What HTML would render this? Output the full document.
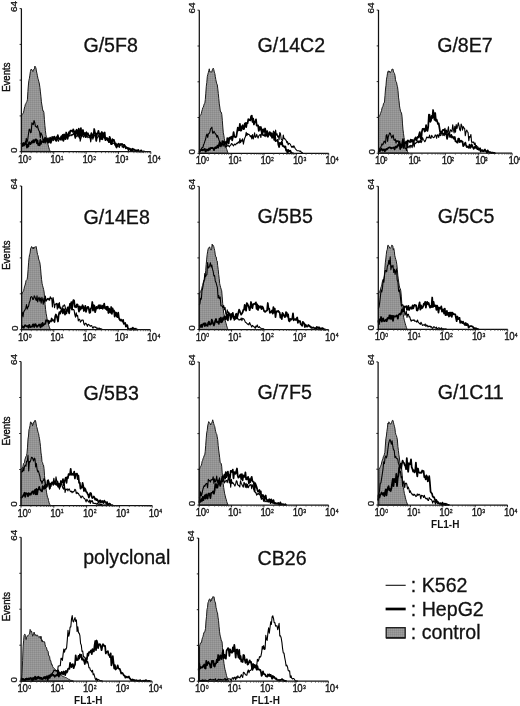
<!DOCTYPE html>
<html><head><meta charset="utf-8"><title>FACS histograms</title>
<style>
html,body{margin:0;padding:0;background:#fff;}
svg{display:block;}
text{font-family:"Liberation Sans",sans-serif;fill:#111;}
.t{font-size:19.6px;stroke:#111;stroke-width:0.3px;}
.tk{font-size:11.5px;stroke:#111;stroke-width:0.35px;}
.sup{font-size:6.1px;stroke:#111;stroke-width:0.3px;}
.yl{font-size:9.6px;stroke:#111;stroke-width:0.3px;}
.ev{font-size:10.4px;stroke:#111;stroke-width:0.4px;}
.fl{font-size:10px;font-weight:bold;}
.ax{stroke:#111;stroke-width:1.25;fill:none;}
.thin{stroke:#000;stroke-width:1.1;fill:none;stroke-linejoin:round;}
.thick{stroke:#000;stroke-width:1.75;fill:none;stroke-linejoin:round;}
.ctrl{fill:url(#ht);stroke:#1a1a1a;stroke-width:1;stroke-linejoin:round;}
</style></head><body>
<svg width="520" height="706" viewBox="0 0 520 706">
<defs><pattern id="ht" width="2" height="2" patternUnits="userSpaceOnUse"><rect width="2" height="2" fill="#949494"/><rect width="1" height="1" fill="#8a8a8a"/><rect x="1" y="1" width="1" height="1" fill="#9e9e9e"/></pattern></defs>
<rect width="520" height="706" fill="#fff"/>
<g style="filter:blur(0.4px)">
<g>
<path class="ctrl" d="M21.4 151.7 L21.4 116.1 L21.9 114.8 L22.4 114.4 L22.9 113.6 L23.4 112.8 L23.9 110.7 L24.4 108.0 L24.9 106.4 L25.4 104.3 L25.9 103.5 L26.4 102.4 L26.9 101.5 L27.4 99.7 L27.9 91.5 L28.4 85.0 L28.9 80.4 L29.4 78.3 L29.9 75.1 L30.4 71.6 L30.9 69.6 L31.4 69.0 L31.9 70.1 L32.4 70.4 L32.9 71.6 L33.4 70.2 L33.9 69.1 L34.4 68.9 L34.9 66.1 L35.4 67.1 L35.9 67.8 L36.4 71.0 L36.9 73.2 L37.4 75.6 L37.9 78.2 L38.4 79.9 L38.9 81.9 L39.4 84.0 L39.9 87.3 L40.4 91.9 L40.9 96.2 L41.4 101.8 L41.9 105.0 L42.4 108.1 L42.9 111.0 L43.4 110.9 L43.9 112.5 L44.4 119.7 L44.9 125.5 L45.4 130.6 L45.9 134.6 L46.4 137.2 L46.9 140.2 L47.4 142.8 L47.9 144.1 L48.4 146.1 L48.9 147.9 L49.4 149.4 L49.9 150.7 L50.4 151.7 L50.4 151.7 Z"/>
<path class="thin" d="M21.4 147.6 L22.1 144.9 L22.8 145.9 L23.5 145.2 L24.2 145.7 L24.9 144.5 L25.6 142.7 L26.3 138.3 L27.0 142.4 L27.7 139.8 L28.4 134.5 L29.1 129.6 L29.8 129.2 L30.5 132.8 L31.2 132.3 L31.9 122.9 L32.6 124.0 L33.3 124.7 L34.0 120.5 L34.7 122.3 L35.4 126.1 L36.1 126.8 L36.8 127.3 L37.5 125.6 L38.2 129.1 L38.9 130.6 L39.6 131.9 L40.3 137.6 L41.0 132.9 L41.7 134.5 L42.4 136.1 L43.1 141.5 L43.8 139.8 L44.5 138.0 L45.2 143.1 L45.9 140.8 L46.6 138.9 L47.3 142.6 L48.0 137.7 L48.7 139.3 L49.4 140.4 L50.1 139.5 L50.8 138.8 L51.5 139.6 L52.2 137.7 L52.9 140.7 L53.6 140.2 L54.3 137.5 L55.0 139.2 L55.7 140.7 L56.4 137.4 L57.1 136.4 L57.8 139.7 L58.5 141.3 L59.2 139.0 L59.9 138.9 L60.6 139.1 L61.3 136.0 L62.0 140.3 L62.7 136.0 L63.4 140.4 L64.1 139.3 L64.8 136.5 L65.5 135.2 L66.2 135.5 L66.9 136.1 L67.6 136.2 L68.3 135.9 L69.0 134.9 L69.7 136.1 L70.4 135.1 L71.1 134.6 L71.8 135.7 L72.5 134.3 L73.2 134.7 L73.9 131.9 L74.6 135.3 L75.3 136.8 L76.0 136.7 L76.7 136.1 L77.4 134.3 L78.1 136.8 L78.8 135.4 L79.5 132.6 L80.2 141.2 L80.9 138.4 L81.6 135.8 L82.3 135.5 L83.0 135.9 L83.7 137.2 L84.4 135.2 L85.1 135.9 L85.8 137.5 L86.5 131.9 L87.2 135.9 L87.9 137.7 L88.6 136.9 L89.3 137.2 L90.0 136.9 L90.7 142.0 L91.4 137.8 L92.1 135.0 L92.8 139.2 L93.5 137.2 L94.2 135.3 L94.9 135.5 L95.6 134.3 L96.3 140.3 L97.0 137.7 L97.7 137.6 L98.4 135.7 L99.1 134.7 L99.8 141.9 L100.5 134.6 L101.2 139.4 L101.9 135.3 L102.6 139.7 L103.3 137.0 L104.0 135.6 L104.7 138.6 L105.4 138.5 L106.1 138.0 L106.8 139.7 L107.5 140.6 L108.2 138.5 L108.9 139.8 L109.6 142.3 L110.3 138.0 L111.0 144.3 L111.7 141.5 L112.4 143.6 L113.1 143.4 L113.8 142.9 L114.5 143.9 L115.2 143.7 L115.9 146.8 L116.6 146.9 L117.3 144.4 L118.0 146.5 L118.7 146.7 L119.4 147.3 L120.1 144.1 L120.8 144.9 L121.5 144.1 L122.2 147.1 L122.9 146.2 L123.6 147.8 L124.3 146.1 L125.0 145.8 L125.7 148.7 L126.4 146.9 L127.1 147.9 L127.8 149.2 L128.5 150.8 L129.2 148.6 L129.9 149.9 L130.6 150.5 L131.3 150.1 L132.0 150.4 L132.7 150.2 L133.4 151.5 L134.1 151.1 L134.8 151.3"/>
<path class="thick" d="M21.4 142.9 L22.1 145.1 L22.8 145.8 L23.5 143.0 L24.2 144.2 L24.9 144.1 L25.6 141.9 L26.3 144.4 L27.0 147.5 L27.7 144.3 L28.4 146.5 L29.1 142.1 L29.8 142.7 L30.5 144.1 L31.2 143.0 L31.9 141.4 L32.6 142.5 L33.3 140.2 L34.0 142.5 L34.7 140.5 L35.4 139.6 L36.1 139.3 L36.8 143.2 L37.5 140.4 L38.2 145.2 L38.9 143.8 L39.6 145.3 L40.3 139.8 L41.0 143.8 L41.7 141.5 L42.4 141.8 L43.1 141.4 L43.8 142.4 L44.5 140.8 L45.2 137.8 L45.9 141.0 L46.6 140.0 L47.3 138.9 L48.0 141.0 L48.7 142.7 L49.4 141.1 L50.1 137.7 L50.8 142.8 L51.5 140.5 L52.2 137.0 L52.9 137.1 L53.6 138.5 L54.3 136.6 L55.0 137.6 L55.7 140.2 L56.4 140.9 L57.1 138.7 L57.8 135.1 L58.5 138.1 L59.2 138.7 L59.9 138.2 L60.6 139.7 L61.3 136.4 L62.0 138.6 L62.7 134.9 L63.4 140.9 L64.1 134.4 L64.8 136.3 L65.5 139.1 L66.2 132.5 L66.9 134.5 L67.6 138.9 L68.3 135.4 L69.0 132.2 L69.7 133.8 L70.4 130.6 L71.1 130.7 L71.8 130.9 L72.5 131.8 L73.2 129.4 L73.9 131.1 L74.6 131.7 L75.3 138.0 L76.0 130.7 L76.7 129.7 L77.4 133.8 L78.1 134.4 L78.8 128.7 L79.5 137.8 L80.2 132.6 L80.9 128.1 L81.6 136.3 L82.3 132.6 L83.0 130.0 L83.7 134.9 L84.4 133.4 L85.1 132.8 L85.8 137.1 L86.5 135.3 L87.2 134.5 L87.9 133.2 L88.6 135.2 L89.3 135.6 L90.0 137.5 L90.7 136.0 L91.4 133.1 L92.1 134.9 L92.8 137.1 L93.5 137.1 L94.2 129.0 L94.9 132.5 L95.6 133.6 L96.3 141.0 L97.0 133.5 L97.7 133.7 L98.4 130.8 L99.1 133.7 L99.8 134.7 L100.5 133.3 L101.2 139.0 L101.9 132.0 L102.6 134.0 L103.3 136.8 L104.0 132.9 L104.7 132.5 L105.4 140.2 L106.1 139.2 L106.8 137.8 L107.5 138.7 L108.2 140.5 L108.9 142.1 L109.6 136.8 L110.3 139.2 L111.0 143.7 L111.7 144.2 L112.4 139.2 L113.1 140.8 L113.8 139.8 L114.5 141.9 L115.2 145.0 L115.9 143.5 L116.6 147.5 L117.3 145.4 L118.0 144.4 L118.7 143.6 L119.4 145.6 L120.1 144.8 L120.8 144.0 L121.5 144.2 L122.2 144.0 L122.9 144.8 L123.6 145.9 L124.3 144.8 L125.0 146.2 L125.7 147.8 L126.4 147.9 L127.1 147.6 L127.8 148.1 L128.5 148.1 L129.2 148.5 L129.9 148.6 L130.6 149.1 L131.3 150.3 L132.0 149.0 L132.7 148.7 L133.4 149.3 L134.1 149.9 L134.8 149.6 L135.5 150.7 L136.2 151.5 L136.9 150.2 L137.6 151.0 L138.3 150.0 L139.0 151.2 L139.7 151.7 L140.4 151.4 L141.1 150.3 L141.8 151.3 L142.5 151.7 L143.2 151.7 L143.9 151.4 L144.6 151.5"/>
<path class="ax" d="M21.4 8.6 V151.7 H150.8"/>
<path class="ax" style="stroke-width:0.9" d="M21.4 151.7 h-1.8 M21.4 115.9 h-1.8 M21.4 80.1 h-1.8 M21.4 44.4 h-1.8 M21.4 8.6 h-1.8"/>
<path d="M21.40 151.7 v2.2 M53.75 151.7 v2.2 M86.10 151.7 v2.2 M118.45 151.7 v2.2 M150.80 151.7 v2.2" stroke="#111" stroke-width="0.9" fill="none"/>
<path d="M31.14 151.7 v1.5 M36.83 151.7 v1.5 M40.88 151.7 v1.5 M44.01 151.7 v1.5 M46.57 151.7 v1.5 M48.74 151.7 v1.5 M50.61 151.7 v1.5 M52.27 151.7 v1.5 M63.49 151.7 v1.5 M69.18 151.7 v1.5 M73.23 151.7 v1.5 M76.36 151.7 v1.5 M78.92 151.7 v1.5 M81.09 151.7 v1.5 M82.96 151.7 v1.5 M84.62 151.7 v1.5 M95.84 151.7 v1.5 M101.53 151.7 v1.5 M105.58 151.7 v1.5 M108.71 151.7 v1.5 M111.27 151.7 v1.5 M113.44 151.7 v1.5 M115.31 151.7 v1.5 M116.97 151.7 v1.5 M128.19 151.7 v1.5 M133.88 151.7 v1.5 M137.93 151.7 v1.5 M141.06 151.7 v1.5 M143.62 151.7 v1.5 M145.79 151.7 v1.5 M147.66 151.7 v1.5 M149.32 151.7 v1.5" stroke="#333" stroke-width="0.7" fill="none"/>
<g transform="translate(17.9 162.7) scale(0.84 1)"><text class="tk" x="0" y="0" dx="0 -0.5">10</text><text class="sup" x="12.6" y="-3.1">0</text></g>
<g transform="translate(50.2 162.7) scale(0.84 1)"><text class="tk" x="0" y="0" dx="0 -0.5">10</text><text class="sup" x="12.6" y="-3.1">1</text></g>
<g transform="translate(82.6 162.7) scale(0.84 1)"><text class="tk" x="0" y="0" dx="0 -0.5">10</text><text class="sup" x="12.6" y="-3.1">2</text></g>
<g transform="translate(115.0 162.7) scale(0.84 1)"><text class="tk" x="0" y="0" dx="0 -0.5">10</text><text class="sup" x="12.6" y="-3.1">3</text></g>
<g transform="translate(147.3 162.7) scale(0.84 1)"><text class="tk" x="0" y="0" dx="0 -0.5">10</text><text class="sup" x="12.6" y="-3.1">4</text></g>
<text class="yl" transform="translate(17.2 12.0) rotate(-90) scale(1.03 1)">64</text>
<text class="yl" transform="translate(17.4 152.9) rotate(-90) scale(1.03 1)">0</text>
<text class="ev" transform="translate(9.9 91.8) rotate(-90) scale(0.92 1)">Events</text>
<text class="t" x="83.4" y="52.3">G/5F8</text>
</g>
<g>
<path class="ctrl" d="M199.3 153.3 L199.3 117.4 L199.8 115.9 L200.3 115.5 L200.8 115.0 L201.3 113.6 L201.8 111.3 L202.3 109.7 L202.8 107.7 L203.3 107.2 L203.8 105.3 L204.3 103.7 L204.8 103.4 L205.3 99.5 L205.8 93.2 L206.3 86.3 L206.8 82.5 L207.3 76.6 L207.8 74.4 L208.3 72.7 L208.8 70.7 L209.3 68.8 L209.8 72.0 L210.3 71.8 L210.8 71.9 L211.3 72.1 L211.8 72.0 L212.3 69.8 L212.8 68.8 L213.3 68.2 L213.8 69.7 L214.3 72.1 L214.8 73.5 L215.3 76.5 L215.8 79.5 L216.3 82.0 L216.8 83.9 L217.3 84.8 L217.8 88.9 L218.3 93.6 L218.8 98.6 L219.3 103.9 L219.8 107.0 L220.3 111.1 L220.8 112.1 L221.3 112.2 L221.8 114.5 L222.3 120.3 L222.8 127.0 L223.3 132.8 L223.8 135.2 L224.3 138.7 L224.8 141.4 L225.3 144.2 L225.8 146.0 L226.3 148.2 L226.8 149.5 L227.3 151.1 L227.8 152.5 L228.3 153.3 L228.3 153.3 Z"/>
<path class="thin" d="M199.3 149.4 L200.0 150.9 L200.7 150.3 L201.4 148.8 L202.1 147.5 L202.8 147.8 L203.5 145.0 L204.2 143.4 L204.9 141.2 L205.6 139.1 L206.3 135.6 L207.0 134.1 L207.7 137.4 L208.4 133.8 L209.1 133.5 L209.8 132.3 L210.5 128.9 L211.2 128.2 L211.9 127.2 L212.6 133.1 L213.3 133.1 L214.0 131.2 L214.7 132.6 L215.4 133.9 L216.1 134.5 L216.8 137.2 L217.5 135.5 L218.2 137.5 L218.9 139.7 L219.6 141.9 L220.3 142.1 L221.0 146.9 L221.7 144.6 L222.4 143.4 L223.1 146.2 L223.8 144.1 L224.5 144.7 L225.2 147.2 L225.9 146.1 L226.6 146.6 L227.3 145.7 L228.0 145.4 L228.7 146.0 L229.4 146.8 L230.1 145.5 L230.8 145.1 L231.5 143.6 L232.2 144.0 L232.9 145.2 L233.6 145.9 L234.3 144.1 L235.0 144.4 L235.7 144.9 L236.4 143.2 L237.1 143.6 L237.8 142.6 L238.5 141.8 L239.2 143.2 L239.9 138.6 L240.6 142.7 L241.3 140.1 L242.0 141.2 L242.7 138.7 L243.4 144.2 L244.1 140.6 L244.8 137.9 L245.5 136.5 L246.2 132.3 L246.9 135.7 L247.6 133.5 L248.3 134.5 L249.0 134.3 L249.7 135.3 L250.4 136.8 L251.1 135.6 L251.8 138.9 L252.5 134.5 L253.2 139.0 L253.9 136.6 L254.6 132.9 L255.3 137.4 L256.0 136.8 L256.7 134.4 L257.4 136.5 L258.1 138.1 L258.8 135.8 L259.5 135.0 L260.2 134.6 L260.9 137.5 L261.6 132.1 L262.3 132.2 L263.0 135.5 L263.7 134.8 L264.4 136.2 L265.1 132.3 L265.8 136.6 L266.5 133.7 L267.2 136.0 L267.9 136.4 L268.6 133.3 L269.3 131.9 L270.0 134.7 L270.7 136.1 L271.4 132.8 L272.1 134.6 L272.8 133.7 L273.5 131.1 L274.2 132.1 L274.9 135.8 L275.6 130.1 L276.3 135.1 L277.0 133.7 L277.7 136.9 L278.4 135.9 L279.1 139.6 L279.8 132.6 L280.5 133.7 L281.2 139.2 L281.9 140.0 L282.6 140.4 L283.3 135.1 L284.0 138.7 L284.7 138.6 L285.4 139.8 L286.1 140.2 L286.8 142.7 L287.5 141.6 L288.2 144.8 L288.9 143.3 L289.6 143.6 L290.3 144.1 L291.0 145.8 L291.7 147.2 L292.4 146.3 L293.1 147.6 L293.8 145.7 L294.5 147.1 L295.2 148.6 L295.9 149.4 L296.6 150.1 L297.3 150.8 L298.0 150.7 L298.7 150.7 L299.4 151.0 L300.1 151.4 L300.8 151.1 L301.5 152.9 L302.2 152.9 L302.9 152.5"/>
<path class="thick" d="M199.3 152.4 L200.0 151.0 L200.7 150.2 L201.4 150.1 L202.1 149.8 L202.8 150.3 L203.5 149.6 L204.2 149.8 L204.9 148.9 L205.6 151.7 L206.3 150.5 L207.0 149.4 L207.7 150.5 L208.4 150.4 L209.1 148.3 L209.8 149.7 L210.5 148.1 L211.2 147.8 L211.9 148.2 L212.6 147.9 L213.3 148.5 L214.0 150.1 L214.7 148.1 L215.4 147.2 L216.1 148.2 L216.8 147.2 L217.5 145.6 L218.2 147.6 L218.9 144.9 L219.6 142.5 L220.3 146.0 L221.0 144.4 L221.7 144.5 L222.4 141.2 L223.1 142.9 L223.8 141.5 L224.5 144.0 L225.2 142.3 L225.9 141.9 L226.6 145.0 L227.3 138.1 L228.0 138.6 L228.7 143.5 L229.4 137.7 L230.1 139.0 L230.8 137.1 L231.5 136.6 L232.2 140.3 L232.9 136.8 L233.6 132.1 L234.3 136.5 L235.0 137.0 L235.7 137.3 L236.4 136.4 L237.1 131.8 L237.8 127.6 L238.5 130.3 L239.2 130.1 L239.9 123.9 L240.6 130.7 L241.3 130.4 L242.0 126.2 L242.7 125.3 L243.4 129.1 L244.1 128.9 L244.8 123.7 L245.5 123.0 L246.2 127.1 L246.9 122.8 L247.6 123.2 L248.3 119.1 L249.0 120.3 L249.7 119.6 L250.4 120.4 L251.1 116.1 L251.8 115.6 L252.5 122.0 L253.2 118.7 L253.9 124.5 L254.6 122.5 L255.3 121.0 L256.0 119.3 L256.7 125.7 L257.4 125.4 L258.1 125.3 L258.8 130.9 L259.5 127.0 L260.2 129.6 L260.9 127.0 L261.6 131.8 L262.3 134.6 L263.0 129.4 L263.7 129.3 L264.4 131.9 L265.1 128.5 L265.8 132.1 L266.5 133.4 L267.2 131.1 L267.9 136.8 L268.6 135.0 L269.3 133.8 L270.0 132.2 L270.7 135.3 L271.4 134.8 L272.1 137.8 L272.8 136.2 L273.5 133.9 L274.2 139.8 L274.9 133.9 L275.6 141.1 L276.3 140.4 L277.0 140.8 L277.7 139.8 L278.4 144.8 L279.1 147.0 L279.8 142.8 L280.5 143.2 L281.2 144.1 L281.9 141.6 L282.6 145.9 L283.3 146.4 L284.0 146.1 L284.7 147.4 L285.4 146.4 L286.1 150.5 L286.8 150.0 L287.5 153.3 L288.2 149.9 L288.9 151.5 L289.6 151.0 L290.3 150.6 L291.0 152.3 L291.7 152.8 L292.4 153.1 L293.1 153.3 L293.8 153.3"/>
<path class="ax" d="M199.3 10.2 V153.3 H328.7"/>
<path class="ax" style="stroke-width:0.9" d="M199.3 153.3 h-1.8 M199.3 117.5 h-1.8 M199.3 81.8 h-1.8 M199.3 46.0 h-1.8 M199.3 10.2 h-1.8"/>
<path d="M199.30 153.3 v2.2 M231.65 153.3 v2.2 M264.00 153.3 v2.2 M296.35 153.3 v2.2 M328.70 153.3 v2.2" stroke="#111" stroke-width="0.9" fill="none"/>
<path d="M209.04 153.3 v1.5 M214.73 153.3 v1.5 M218.78 153.3 v1.5 M221.91 153.3 v1.5 M224.47 153.3 v1.5 M226.64 153.3 v1.5 M228.51 153.3 v1.5 M230.17 153.3 v1.5 M241.39 153.3 v1.5 M247.08 153.3 v1.5 M251.13 153.3 v1.5 M254.26 153.3 v1.5 M256.82 153.3 v1.5 M258.99 153.3 v1.5 M260.86 153.3 v1.5 M262.52 153.3 v1.5 M273.74 153.3 v1.5 M279.43 153.3 v1.5 M283.48 153.3 v1.5 M286.61 153.3 v1.5 M289.17 153.3 v1.5 M291.34 153.3 v1.5 M293.21 153.3 v1.5 M294.87 153.3 v1.5 M306.09 153.3 v1.5 M311.78 153.3 v1.5 M315.83 153.3 v1.5 M318.96 153.3 v1.5 M321.52 153.3 v1.5 M323.69 153.3 v1.5 M325.56 153.3 v1.5 M327.22 153.3 v1.5" stroke="#333" stroke-width="0.7" fill="none"/>
<g transform="translate(195.8 164.3) scale(0.84 1)"><text class="tk" x="0" y="0" dx="0 -0.5">10</text><text class="sup" x="12.6" y="-3.1">0</text></g>
<g transform="translate(228.2 164.3) scale(0.84 1)"><text class="tk" x="0" y="0" dx="0 -0.5">10</text><text class="sup" x="12.6" y="-3.1">1</text></g>
<g transform="translate(260.5 164.3) scale(0.84 1)"><text class="tk" x="0" y="0" dx="0 -0.5">10</text><text class="sup" x="12.6" y="-3.1">2</text></g>
<g transform="translate(292.9 164.3) scale(0.84 1)"><text class="tk" x="0" y="0" dx="0 -0.5">10</text><text class="sup" x="12.6" y="-3.1">3</text></g>
<g transform="translate(325.2 164.3) scale(0.84 1)"><text class="tk" x="0" y="0" dx="0 -0.5">10</text><text class="sup" x="12.6" y="-3.1">4</text></g>
<text class="yl" transform="translate(195.1 13.6) rotate(-90) scale(1.03 1)">64</text>
<text class="yl" transform="translate(195.3 154.5) rotate(-90) scale(1.03 1)">0</text>
<text class="t" x="257.6" y="52.1">G/14C2</text>
</g>
<g>
<path class="ctrl" d="M378.5 153.2 L378.5 117.1 L379.0 116.6 L379.5 115.8 L380.0 115.1 L380.5 113.4 L381.0 112.1 L381.5 110.6 L382.0 108.2 L382.5 106.9 L383.0 106.2 L383.5 103.5 L384.0 103.2 L384.5 102.0 L385.0 95.4 L385.5 89.0 L386.0 85.3 L386.5 79.1 L387.0 76.7 L387.5 73.2 L388.0 71.4 L388.5 70.8 L389.0 72.3 L389.5 71.1 L390.0 72.5 L390.5 72.7 L391.0 71.5 L391.5 70.6 L392.0 69.1 L392.5 69.2 L393.0 69.1 L393.5 72.1 L394.0 72.4 L394.5 73.5 L395.0 75.6 L395.5 79.7 L396.0 81.8 L396.5 82.2 L397.0 85.1 L397.5 86.7 L398.0 90.6 L398.5 97.1 L399.0 100.8 L399.5 105.9 L400.0 108.7 L400.5 111.2 L401.0 112.1 L401.5 113.0 L402.0 116.2 L402.5 123.9 L403.0 129.9 L403.5 133.6 L404.0 137.4 L404.5 139.7 L405.0 142.3 L405.5 144.6 L406.0 146.2 L406.5 148.5 L407.0 149.8 L407.5 151.5 L408.0 152.5 L408.5 153.2 L408.5 153.2 Z"/>
<path class="thin" d="M378.5 150.2 L379.2 148.2 L379.9 148.1 L380.6 147.9 L381.3 145.9 L382.0 143.7 L382.7 145.0 L383.4 143.5 L384.1 141.1 L384.8 141.6 L385.5 143.2 L386.2 135.4 L386.9 134.6 L387.6 141.5 L388.3 136.7 L389.0 134.7 L389.7 132.9 L390.4 133.5 L391.1 135.9 L391.8 138.0 L392.5 136.3 L393.2 135.0 L393.9 139.8 L394.6 140.3 L395.3 139.0 L396.0 143.1 L396.7 140.6 L397.4 141.5 L398.1 140.6 L398.8 143.2 L399.5 144.1 L400.2 143.9 L400.9 144.0 L401.6 145.6 L402.3 145.2 L403.0 144.9 L403.7 145.0 L404.4 145.0 L405.1 148.5 L405.8 148.2 L406.5 150.5 L407.2 145.0 L407.9 147.9 L408.6 146.7 L409.3 145.7 L410.0 147.9 L410.7 145.2 L411.4 145.5 L412.1 147.7 L412.8 144.5 L413.5 142.8 L414.2 147.0 L414.9 142.8 L415.6 143.4 L416.3 142.6 L417.0 142.4 L417.7 140.7 L418.4 142.8 L419.1 140.7 L419.8 142.5 L420.5 140.3 L421.2 142.6 L421.9 141.1 L422.6 137.6 L423.3 139.5 L424.0 140.3 L424.7 141.8 L425.4 140.9 L426.1 138.8 L426.8 137.0 L427.5 137.7 L428.2 137.2 L428.9 138.0 L429.6 135.0 L430.3 138.2 L431.0 138.3 L431.7 135.3 L432.4 136.8 L433.1 137.3 L433.8 137.7 L434.5 136.9 L435.2 134.9 L435.9 135.3 L436.6 138.3 L437.3 134.8 L438.0 135.1 L438.7 137.4 L439.4 133.5 L440.1 135.6 L440.8 135.5 L441.5 132.9 L442.2 131.6 L442.9 135.7 L443.6 133.1 L444.3 135.6 L445.0 128.3 L445.7 134.2 L446.4 130.1 L447.1 133.9 L447.8 130.3 L448.5 126.7 L449.2 137.3 L449.9 132.2 L450.6 129.7 L451.3 130.7 L452.0 131.8 L452.7 124.7 L453.4 129.2 L454.1 133.0 L454.8 126.4 L455.5 132.3 L456.2 124.6 L456.9 128.5 L457.6 126.2 L458.3 122.9 L459.0 125.6 L459.7 129.6 L460.4 130.8 L461.1 124.0 L461.8 125.7 L462.5 130.1 L463.2 126.6 L463.9 128.0 L464.6 128.2 L465.3 135.7 L466.0 131.8 L466.7 130.1 L467.4 131.6 L468.1 132.6 L468.8 140.7 L469.5 136.5 L470.2 137.1 L470.9 134.5 L471.6 142.1 L472.3 142.1 L473.0 142.5 L473.7 142.0 L474.4 144.7 L475.1 143.0 L475.8 146.4 L476.5 145.5 L477.2 147.2 L477.9 146.9 L478.6 148.5 L479.3 150.0 L480.0 147.8 L480.7 149.2 L481.4 150.5 L482.1 150.3 L482.8 149.9 L483.5 151.6 L484.2 151.1 L484.9 150.7 L485.6 150.9 L486.3 151.6 L487.0 152.9 L487.7 150.9 L488.4 151.6 L489.1 152.0 L489.8 152.3 L490.5 152.1 L491.2 152.6 L491.9 152.9 L492.6 152.9 L493.3 153.0 L494.0 153.1 L494.7 153.2 L495.4 153.0"/>
<path class="thick" d="M378.5 151.7 L379.2 149.8 L379.9 151.2 L380.6 149.8 L381.3 148.6 L382.0 149.6 L382.7 150.5 L383.4 149.5 L384.1 149.3 L384.8 151.3 L385.5 149.9 L386.2 148.9 L386.9 149.5 L387.6 148.7 L388.3 147.8 L389.0 147.6 L389.7 147.3 L390.4 147.5 L391.1 148.5 L391.8 147.9 L392.5 148.0 L393.2 147.8 L393.9 147.4 L394.6 149.4 L395.3 147.1 L396.0 146.4 L396.7 147.6 L397.4 145.9 L398.1 144.8 L398.8 145.6 L399.5 141.7 L400.2 149.1 L400.9 144.9 L401.6 147.4 L402.3 142.4 L403.0 139.2 L403.7 148.0 L404.4 143.1 L405.1 142.1 L405.8 143.3 L406.5 141.5 L407.2 146.4 L407.9 140.3 L408.6 141.0 L409.3 141.4 L410.0 142.3 L410.7 139.6 L411.4 141.6 L412.1 139.9 L412.8 141.1 L413.5 144.5 L414.2 139.6 L414.9 138.8 L415.6 137.4 L416.3 140.6 L417.0 138.5 L417.7 136.8 L418.4 137.5 L419.1 134.6 L419.8 132.2 L420.5 138.0 L421.2 139.5 L421.9 131.7 L422.6 128.9 L423.3 129.4 L424.0 128.6 L424.7 131.5 L425.4 130.8 L426.1 125.2 L426.8 129.3 L427.5 130.9 L428.2 127.1 L428.9 114.7 L429.6 114.9 L430.3 121.9 L431.0 120.6 L431.7 115.9 L432.4 118.0 L433.1 110.0 L433.8 115.2 L434.5 119.8 L435.2 113.0 L435.9 120.8 L436.6 119.6 L437.3 121.8 L438.0 124.1 L438.7 123.4 L439.4 127.5 L440.1 131.9 L440.8 133.8 L441.5 131.9 L442.2 131.2 L442.9 129.9 L443.6 130.3 L444.3 129.5 L445.0 131.3 L445.7 134.3 L446.4 134.6 L447.1 138.8 L447.8 134.4 L448.5 133.4 L449.2 134.0 L449.9 136.1 L450.6 136.8 L451.3 134.9 L452.0 137.6 L452.7 136.6 L453.4 137.5 L454.1 138.9 L454.8 137.0 L455.5 141.3 L456.2 141.2 L456.9 142.4 L457.6 142.7 L458.3 138.5 L459.0 138.5 L459.7 142.1 L460.4 141.5 L461.1 140.7 L461.8 141.8 L462.5 141.4 L463.2 146.1 L463.9 145.4 L464.6 143.9 L465.3 142.6 L466.0 145.1 L466.7 147.0 L467.4 146.5 L468.1 147.3 L468.8 147.8 L469.5 144.6 L470.2 147.9 L470.9 147.1 L471.6 144.4 L472.3 146.0 L473.0 147.4 L473.7 148.8 L474.4 147.7 L475.1 146.5 L475.8 147.9 L476.5 147.4 L477.2 149.0 L477.9 148.7 L478.6 149.7 L479.3 149.3 L480.0 148.6 L480.7 151.6 L481.4 150.4 L482.1 150.3 L482.8 151.2 L483.5 151.1 L484.2 150.3 L484.9 149.5 L485.6 150.8 L486.3 151.2 L487.0 152.7 L487.7 150.3 L488.4 151.8 L489.1 152.0 L489.8 152.8 L490.5 152.3 L491.2 153.0 L491.9 152.5 L492.6 152.5 L493.3 152.8 L494.0 152.9 L494.7 153.2 L495.4 152.7"/>
<path class="ax" d="M378.5 10.1 V153.2 H512.1"/>
<path class="ax" style="stroke-width:0.9" d="M378.5 153.2 h-1.8 M378.5 117.4 h-1.8 M378.5 81.6 h-1.8 M378.5 45.9 h-1.8 M378.5 10.1 h-1.8"/>
<path d="M378.50 153.2 v2.2 M411.90 153.2 v2.2 M445.30 153.2 v2.2 M478.70 153.2 v2.2 M512.10 153.2 v2.2" stroke="#111" stroke-width="0.9" fill="none"/>
<path d="M388.55 153.2 v1.5 M394.44 153.2 v1.5 M398.61 153.2 v1.5 M401.85 153.2 v1.5 M404.49 153.2 v1.5 M406.73 153.2 v1.5 M408.66 153.2 v1.5 M410.37 153.2 v1.5 M421.95 153.2 v1.5 M427.84 153.2 v1.5 M432.01 153.2 v1.5 M435.25 153.2 v1.5 M437.89 153.2 v1.5 M440.13 153.2 v1.5 M442.06 153.2 v1.5 M443.77 153.2 v1.5 M455.35 153.2 v1.5 M461.24 153.2 v1.5 M465.41 153.2 v1.5 M468.65 153.2 v1.5 M471.29 153.2 v1.5 M473.53 153.2 v1.5 M475.46 153.2 v1.5 M477.17 153.2 v1.5 M488.75 153.2 v1.5 M494.64 153.2 v1.5 M498.81 153.2 v1.5 M502.05 153.2 v1.5 M504.69 153.2 v1.5 M506.93 153.2 v1.5 M508.86 153.2 v1.5 M510.57 153.2 v1.5" stroke="#333" stroke-width="0.7" fill="none"/>
<g transform="translate(375.0 164.2) scale(0.84 1)"><text class="tk" x="0" y="0" dx="0 -0.5">10</text><text class="sup" x="11.4" y="-3.1">0</text></g>
<g transform="translate(408.4 164.2) scale(0.84 1)"><text class="tk" x="0" y="0" dx="0 -0.5">10</text><text class="sup" x="11.4" y="-3.1">1</text></g>
<g transform="translate(441.8 164.2) scale(0.84 1)"><text class="tk" x="0" y="0" dx="0 -0.5">10</text><text class="sup" x="11.4" y="-3.1">2</text></g>
<g transform="translate(475.2 164.2) scale(0.84 1)"><text class="tk" x="0" y="0" dx="0 -0.5">10</text><text class="sup" x="11.4" y="-3.1">3</text></g>
<g transform="translate(508.6 164.2) scale(0.84 1)"><text class="tk" x="0" y="0" dx="0 -0.5">10</text><text class="sup" x="11.4" y="-3.1">4</text></g>
<text class="yl" transform="translate(374.3 13.5) rotate(-90) scale(1.03 1)">64</text>
<text class="yl" transform="translate(374.5 154.4) rotate(-90) scale(1.03 1)">0</text>
<text class="t" x="437.2" y="51.5">G/8E7</text>
</g>
<g>
<path class="ctrl" d="M21.6 329.7 L21.6 294.1 L22.1 293.9 L22.6 292.2 L23.1 291.7 L23.6 290.7 L24.1 288.6 L24.6 286.2 L25.1 285.1 L25.6 282.7 L26.1 280.5 L26.6 279.9 L27.1 279.4 L27.6 276.1 L28.1 269.5 L28.6 262.8 L29.1 257.6 L29.6 254.5 L30.1 253.1 L30.6 248.4 L31.1 247.6 L31.6 246.5 L32.1 248.3 L32.6 248.4 L33.1 247.0 L33.6 248.9 L34.1 247.9 L34.6 247.0 L35.1 247.1 L35.6 246.9 L36.1 246.4 L36.6 249.0 L37.1 252.2 L37.6 254.6 L38.1 255.7 L38.6 259.0 L39.1 260.3 L39.6 261.6 L40.1 264.2 L40.6 268.9 L41.1 274.9 L41.6 279.7 L42.1 283.6 L42.6 285.7 L43.1 287.4 L43.6 289.4 L44.1 292.0 L44.6 297.9 L45.1 304.5 L45.6 309.6 L46.1 313.4 L46.6 316.1 L47.1 319.1 L47.6 320.5 L48.1 322.6 L48.6 324.9 L49.1 326.3 L49.6 327.8 L50.1 329.1 L50.6 329.6 L50.6 329.7 Z"/>
<path class="thin" d="M21.6 316.2 L22.3 312.3 L23.0 316.9 L23.7 312.0 L24.4 310.7 L25.1 309.6 L25.8 308.2 L26.5 304.6 L27.2 309.2 L27.9 307.1 L28.6 306.1 L29.3 302.5 L30.0 301.1 L30.7 297.1 L31.4 296.6 L32.1 297.2 L32.8 299.5 L33.5 299.3 L34.2 295.8 L34.9 296.8 L35.6 299.0 L36.3 300.6 L37.0 295.9 L37.7 301.9 L38.4 298.7 L39.1 297.3 L39.8 301.1 L40.5 298.1 L41.2 303.2 L41.9 297.4 L42.6 299.6 L43.3 304.3 L44.0 298.1 L44.7 302.2 L45.4 296.1 L46.1 301.3 L46.8 299.8 L47.5 298.4 L48.2 299.9 L48.9 298.2 L49.6 300.3 L50.3 296.7 L51.0 298.5 L51.7 298.2 L52.4 307.0 L53.1 297.5 L53.8 301.9 L54.5 307.8 L55.2 304.1 L55.9 304.1 L56.6 303.3 L57.3 309.1 L58.0 303.4 L58.7 308.0 L59.4 302.6 L60.1 308.8 L60.8 307.1 L61.5 309.5 L62.2 311.1 L62.9 305.9 L63.6 306.2 L64.3 304.7 L65.0 306.1 L65.7 309.3 L66.4 311.7 L67.1 309.3 L67.8 309.3 L68.5 309.5 L69.2 306.1 L69.9 306.7 L70.6 308.2 L71.3 307.7 L72.0 309.3 L72.7 309.6 L73.4 309.5 L74.1 310.2 L74.8 314.6 L75.5 317.2 L76.2 312.7 L76.9 316.2 L77.6 315.4 L78.3 320.9 L79.0 319.3 L79.7 319.3 L80.4 322.1 L81.1 321.2 L81.8 320.0 L82.5 320.1 L83.2 320.1 L83.9 323.9 L84.6 325.1 L85.3 323.3 L86.0 323.3 L86.7 324.5 L87.4 326.4 L88.1 324.4 L88.8 324.6 L89.5 325.1 L90.2 326.3 L90.9 325.8 L91.6 325.6 L92.3 327.0 L93.0 328.3 L93.7 326.7 L94.4 326.8 L95.1 327.4 L95.8 327.0 L96.5 328.3 L97.2 328.1 L97.9 328.5 L98.6 328.2 L99.3 328.0 L100.0 329.1 L100.7 328.6 L101.4 329.0 L102.1 329.4 L102.8 329.5"/>
<path class="thick" d="M21.6 325.4 L22.3 327.1 L23.0 326.9 L23.7 327.8 L24.4 326.2 L25.1 325.2 L25.8 325.9 L26.5 326.0 L27.2 326.5 L27.9 326.0 L28.6 327.7 L29.3 324.9 L30.0 326.4 L30.7 327.1 L31.4 326.6 L32.1 326.6 L32.8 324.6 L33.5 324.3 L34.2 327.0 L34.9 324.3 L35.6 324.2 L36.3 325.9 L37.0 326.9 L37.7 325.9 L38.4 325.7 L39.1 324.4 L39.8 325.2 L40.5 327.3 L41.2 324.2 L41.9 326.3 L42.6 322.8 L43.3 325.4 L44.0 324.3 L44.7 324.2 L45.4 323.4 L46.1 320.2 L46.8 320.5 L47.5 320.6 L48.2 320.7 L48.9 323.5 L49.6 321.4 L50.3 321.1 L51.0 321.5 L51.7 318.5 L52.4 320.5 L53.1 320.1 L53.8 320.4 L54.5 322.0 L55.2 316.5 L55.9 314.5 L56.6 316.4 L57.3 318.3 L58.0 321.5 L58.7 314.9 L59.4 312.1 L60.1 313.6 L60.8 311.6 L61.5 309.8 L62.2 310.1 L62.9 313.3 L63.6 309.2 L64.3 309.4 L65.0 314.6 L65.7 311.3 L66.4 313.4 L67.1 309.6 L67.8 307.3 L68.5 311.1 L69.2 313.3 L69.9 303.8 L70.6 305.8 L71.3 302.2 L72.0 309.6 L72.7 302.8 L73.4 300.1 L74.1 300.5 L74.8 306.9 L75.5 305.9 L76.2 307.3 L76.9 304.4 L77.6 304.6 L78.3 307.4 L79.0 311.6 L79.7 306.3 L80.4 309.7 L81.1 307.1 L81.8 308.3 L82.5 305.1 L83.2 306.6 L83.9 311.0 L84.6 309.2 L85.3 305.9 L86.0 311.8 L86.7 309.3 L87.4 307.2 L88.1 306.8 L88.8 308.4 L89.5 312.9 L90.2 312.5 L90.9 308.4 L91.6 307.8 L92.3 302.0 L93.0 310.7 L93.7 305.2 L94.4 305.9 L95.1 312.2 L95.8 309.7 L96.5 306.8 L97.2 308.4 L97.9 307.3 L98.6 305.3 L99.3 308.6 L100.0 305.1 L100.7 308.2 L101.4 308.2 L102.1 305.5 L102.8 308.8 L103.5 306.8 L104.2 303.6 L104.9 308.1 L105.6 308.9 L106.3 306.9 L107.0 310.0 L107.7 306.6 L108.4 313.0 L109.1 308.5 L109.8 311.6 L110.5 312.7 L111.2 307.0 L111.9 313.9 L112.6 308.4 L113.3 311.6 L114.0 310.4 L114.7 316.6 L115.4 312.4 L116.1 312.5 L116.8 316.5 L117.5 317.1 L118.2 312.6 L118.9 317.8 L119.6 319.6 L120.3 320.6 L121.0 319.4 L121.7 320.4 L122.4 321.5 L123.1 319.9 L123.8 323.8 L124.5 323.4 L125.2 323.0 L125.9 326.7 L126.6 325.2 L127.3 325.2 L128.0 328.7 L128.7 328.9 L129.4 329.2 L130.1 329.7 L130.8 328.6 L131.5 329.7 L132.2 328.4 L132.9 327.7 L133.6 329.5 L134.3 328.7 L135.0 329.7 L135.7 328.6 L136.4 329.5 L137.1 329.6 L137.8 329.7"/>
<path class="ax" d="M21.6 186.0 V329.7 H150.4"/>
<path class="ax" style="stroke-width:0.9" d="M21.6 329.7 h-1.8 M21.6 293.8 h-1.8 M21.6 257.9 h-1.8 M21.6 221.9 h-1.8 M21.6 186.0 h-1.8"/>
<path d="M21.60 329.7 v2.2 M53.80 329.7 v2.2 M86.00 329.7 v2.2 M118.20 329.7 v2.2 M150.40 329.7 v2.2" stroke="#111" stroke-width="0.9" fill="none"/>
<path d="M31.29 329.7 v1.5 M36.96 329.7 v1.5 M40.99 329.7 v1.5 M44.11 329.7 v1.5 M46.66 329.7 v1.5 M48.81 329.7 v1.5 M50.68 329.7 v1.5 M52.33 329.7 v1.5 M63.49 329.7 v1.5 M69.16 329.7 v1.5 M73.19 329.7 v1.5 M76.31 329.7 v1.5 M78.86 329.7 v1.5 M81.01 329.7 v1.5 M82.88 329.7 v1.5 M84.53 329.7 v1.5 M95.69 329.7 v1.5 M101.36 329.7 v1.5 M105.39 329.7 v1.5 M108.51 329.7 v1.5 M111.06 329.7 v1.5 M113.21 329.7 v1.5 M115.08 329.7 v1.5 M116.73 329.7 v1.5 M127.89 329.7 v1.5 M133.56 329.7 v1.5 M137.59 329.7 v1.5 M140.71 329.7 v1.5 M143.26 329.7 v1.5 M145.41 329.7 v1.5 M147.28 329.7 v1.5 M148.93 329.7 v1.5" stroke="#333" stroke-width="0.7" fill="none"/>
<g transform="translate(18.1 340.7) scale(0.84 1)"><text class="tk" x="0" y="0" dx="0 -0.5">10</text><text class="sup" x="12.6" y="-3.1">0</text></g>
<g transform="translate(50.3 340.7) scale(0.84 1)"><text class="tk" x="0" y="0" dx="0 -0.5">10</text><text class="sup" x="12.6" y="-3.1">1</text></g>
<g transform="translate(82.5 340.7) scale(0.84 1)"><text class="tk" x="0" y="0" dx="0 -0.5">10</text><text class="sup" x="12.6" y="-3.1">2</text></g>
<g transform="translate(114.7 340.7) scale(0.84 1)"><text class="tk" x="0" y="0" dx="0 -0.5">10</text><text class="sup" x="12.6" y="-3.1">3</text></g>
<g transform="translate(146.9 340.7) scale(0.84 1)"><text class="tk" x="0" y="0" dx="0 -0.5">10</text><text class="sup" x="12.6" y="-3.1">4</text></g>
<text class="yl" transform="translate(17.4 189.4) rotate(-90) scale(1.03 1)">64</text>
<text class="yl" transform="translate(17.6 330.9) rotate(-90) scale(1.03 1)">0</text>
<text class="ev" transform="translate(10.1 269.8) rotate(-90) scale(0.92 1)">Events</text>
<text class="t" x="83.4" y="224.0">G/14E8</text>
</g>
<g>
<path class="ctrl" d="M199.2 329.5 L199.2 293.4 L199.7 293.1 L200.2 292.0 L200.7 291.5 L201.2 290.0 L201.7 289.1 L202.2 286.4 L202.7 285.6 L203.2 283.0 L203.7 280.2 L204.2 280.4 L204.7 280.2 L205.2 276.2 L205.7 270.5 L206.2 264.4 L206.7 259.1 L207.2 254.3 L207.7 251.2 L208.2 248.8 L208.7 247.8 L209.2 247.9 L209.7 246.8 L210.2 248.5 L210.7 249.7 L211.2 250.0 L211.7 248.3 L212.2 244.1 L212.7 246.2 L213.2 245.4 L213.7 246.4 L214.2 248.4 L214.7 250.6 L215.2 254.2 L215.7 256.7 L216.2 256.9 L216.7 260.5 L217.2 260.9 L217.7 265.6 L218.2 269.5 L218.7 274.6 L219.2 278.5 L219.7 283.6 L220.2 285.8 L220.7 287.7 L221.2 289.2 L221.7 290.8 L222.2 296.9 L222.7 303.5 L223.2 308.4 L223.7 313.1 L224.2 315.2 L224.7 318.2 L225.2 320.6 L225.7 322.2 L226.2 323.9 L226.7 325.9 L227.2 327.3 L227.7 328.7 L228.2 329.5 L228.2 329.5 Z"/>
<path class="thin" d="M199.2 305.2 L199.9 303.8 L200.6 298.3 L201.3 299.1 L202.0 290.5 L202.7 288.2 L203.4 283.1 L204.1 281.4 L204.8 273.5 L205.5 276.7 L206.2 275.0 L206.9 274.7 L207.6 262.5 L208.3 268.0 L209.0 267.4 L209.7 265.4 L210.4 262.7 L211.1 267.0 L211.8 265.1 L212.5 269.1 L213.2 271.5 L213.9 276.0 L214.6 275.6 L215.3 280.9 L216.0 282.4 L216.7 285.1 L217.4 287.6 L218.1 298.0 L218.8 295.5 L219.5 298.8 L220.2 297.1 L220.9 305.8 L221.6 305.8 L222.3 306.4 L223.0 307.6 L223.7 305.5 L224.4 309.7 L225.1 307.5 L225.8 313.7 L226.5 315.3 L227.2 309.9 L227.9 312.3 L228.6 312.9 L229.3 314.1 L230.0 313.8 L230.7 317.3 L231.4 313.6 L232.1 316.7 L232.8 314.3 L233.5 316.3 L234.2 320.3 L234.9 319.4 L235.6 315.6 L236.3 318.1 L237.0 318.9 L237.7 318.2 L238.4 319.6 L239.1 320.1 L239.8 319.5 L240.5 319.7 L241.2 318.0 L241.9 320.6 L242.6 318.3 L243.3 318.8 L244.0 319.3 L244.7 320.6 L245.4 322.2 L246.1 322.6 L246.8 323.3 L247.5 324.3 L248.2 323.9 L248.9 324.8 L249.6 322.6 L250.3 324.1 L251.0 325.4 L251.7 327.1 L252.4 325.4 L253.1 326.0 L253.8 326.8 L254.5 327.1 L255.2 328.3 L255.9 326.0 L256.6 326.8 L257.3 324.9 L258.0 327.2 L258.7 327.5 L259.4 326.7 L260.1 327.8 L260.8 328.1 L261.5 328.7 L262.2 329.0 L262.9 328.6 L263.6 329.0 L264.3 329.0"/>
<path class="thick" d="M199.2 326.5 L199.9 326.0 L200.6 326.8 L201.3 324.6 L202.0 327.1 L202.7 324.7 L203.4 323.9 L204.1 323.3 L204.8 326.0 L205.5 323.3 L206.2 325.4 L206.9 325.3 L207.6 325.9 L208.3 322.5 L209.0 321.7 L209.7 324.5 L210.4 324.6 L211.1 323.9 L211.8 319.7 L212.5 321.6 L213.2 323.7 L213.9 325.4 L214.6 323.5 L215.3 320.5 L216.0 319.0 L216.7 322.0 L217.4 322.4 L218.1 321.8 L218.8 323.8 L219.5 318.7 L220.2 321.8 L220.9 317.6 L221.6 322.3 L222.3 321.2 L223.0 318.0 L223.7 319.6 L224.4 316.3 L225.1 317.5 L225.8 319.5 L226.5 315.6 L227.2 314.8 L227.9 320.3 L228.6 312.4 L229.3 315.0 L230.0 314.3 L230.7 319.6 L231.4 317.1 L232.1 316.1 L232.8 312.9 L233.5 318.2 L234.2 316.8 L234.9 319.2 L235.6 315.1 L236.3 313.7 L237.0 318.0 L237.7 315.4 L238.4 312.6 L239.1 309.6 L239.8 311.2 L240.5 313.0 L241.2 314.6 L241.9 313.5 L242.6 312.4 L243.3 309.9 L244.0 309.8 L244.7 304.9 L245.4 307.8 L246.1 310.7 L246.8 303.1 L247.5 304.0 L248.2 305.7 L248.9 307.4 L249.6 310.2 L250.3 307.6 L251.0 302.0 L251.7 306.7 L252.4 308.2 L253.1 304.1 L253.8 304.3 L254.5 303.7 L255.2 304.0 L255.9 302.4 L256.6 308.9 L257.3 304.4 L258.0 310.0 L258.7 305.9 L259.4 307.6 L260.1 307.7 L260.8 306.2 L261.5 309.1 L262.2 306.5 L262.9 307.4 L263.6 309.5 L264.3 311.4 L265.0 311.9 L265.7 311.5 L266.4 310.7 L267.1 310.4 L267.8 303.0 L268.5 308.9 L269.2 308.7 L269.9 312.8 L270.6 312.5 L271.3 311.7 L272.0 310.5 L272.7 313.6 L273.4 307.2 L274.1 312.6 L274.8 308.7 L275.5 317.1 L276.2 311.6 L276.9 311.1 L277.6 311.5 L278.3 310.9 L279.0 312.0 L279.7 312.6 L280.4 317.6 L281.1 315.2 L281.8 319.2 L282.5 312.9 L283.2 313.9 L283.9 315.4 L284.6 317.0 L285.3 316.8 L286.0 312.1 L286.7 312.7 L287.4 316.7 L288.1 314.3 L288.8 320.4 L289.5 321.4 L290.2 318.8 L290.9 319.8 L291.6 319.4 L292.3 318.3 L293.0 313.3 L293.7 320.4 L294.4 319.3 L295.1 319.2 L295.8 320.0 L296.5 318.6 L297.2 317.4 L297.9 322.8 L298.6 320.7 L299.3 321.7 L300.0 321.0 L300.7 324.2 L301.4 324.8 L302.1 325.9 L302.8 321.9 L303.5 322.7 L304.2 323.3 L304.9 327.0 L305.6 324.7 L306.3 325.6 L307.0 326.7 L307.7 326.4 L308.4 325.0 L309.1 325.6 L309.8 326.6 L310.5 326.5 L311.2 327.8 L311.9 327.6 L312.6 327.8 L313.3 327.5 L314.0 328.0 L314.7 328.1 L315.4 328.2 L316.1 328.6 L316.8 326.8 L317.5 328.0 L318.2 328.1 L318.9 327.2 L319.6 327.8 L320.3 329.5 L321.0 328.4 L321.7 328.4 L322.4 328.1 L323.1 328.5 L323.8 328.9 L324.5 329.5 L325.2 329.5 L325.9 329.4"/>
<path class="ax" d="M199.2 186.4 V329.5 H328.6"/>
<path class="ax" style="stroke-width:0.9" d="M199.2 329.5 h-1.8 M199.2 293.7 h-1.8 M199.2 257.9 h-1.8 M199.2 222.2 h-1.8 M199.2 186.4 h-1.8"/>
<path d="M199.20 329.5 v2.2 M231.55 329.5 v2.2 M263.90 329.5 v2.2 M296.25 329.5 v2.2 M328.60 329.5 v2.2" stroke="#111" stroke-width="0.9" fill="none"/>
<path d="M208.94 329.5 v1.5 M214.63 329.5 v1.5 M218.68 329.5 v1.5 M221.81 329.5 v1.5 M224.37 329.5 v1.5 M226.54 329.5 v1.5 M228.41 329.5 v1.5 M230.07 329.5 v1.5 M241.29 329.5 v1.5 M246.98 329.5 v1.5 M251.03 329.5 v1.5 M254.16 329.5 v1.5 M256.72 329.5 v1.5 M258.89 329.5 v1.5 M260.76 329.5 v1.5 M262.42 329.5 v1.5 M273.64 329.5 v1.5 M279.33 329.5 v1.5 M283.38 329.5 v1.5 M286.51 329.5 v1.5 M289.07 329.5 v1.5 M291.24 329.5 v1.5 M293.11 329.5 v1.5 M294.77 329.5 v1.5 M305.99 329.5 v1.5 M311.68 329.5 v1.5 M315.73 329.5 v1.5 M318.86 329.5 v1.5 M321.42 329.5 v1.5 M323.59 329.5 v1.5 M325.46 329.5 v1.5 M327.12 329.5 v1.5" stroke="#333" stroke-width="0.7" fill="none"/>
<g transform="translate(195.7 340.5) scale(0.84 1)"><text class="tk" x="0" y="0" dx="0 -0.5">10</text><text class="sup" x="12.6" y="-3.1">0</text></g>
<g transform="translate(228.0 340.5) scale(0.84 1)"><text class="tk" x="0" y="0" dx="0 -0.5">10</text><text class="sup" x="12.6" y="-3.1">1</text></g>
<g transform="translate(260.4 340.5) scale(0.84 1)"><text class="tk" x="0" y="0" dx="0 -0.5">10</text><text class="sup" x="12.6" y="-3.1">2</text></g>
<g transform="translate(292.8 340.5) scale(0.84 1)"><text class="tk" x="0" y="0" dx="0 -0.5">10</text><text class="sup" x="12.6" y="-3.1">3</text></g>
<g transform="translate(325.1 340.5) scale(0.84 1)"><text class="tk" x="0" y="0" dx="0 -0.5">10</text><text class="sup" x="12.6" y="-3.1">4</text></g>
<text class="yl" transform="translate(195.0 189.8) rotate(-90) scale(1.03 1)">64</text>
<text class="yl" transform="translate(195.2 330.7) rotate(-90) scale(1.03 1)">0</text>
<text class="t" x="257.4" y="223.2">G/5B5</text>
</g>
<g>
<path class="ctrl" d="M378.3 329.4 L378.3 293.4 L378.8 293.3 L379.3 292.2 L379.8 291.3 L380.3 290.0 L380.8 288.1 L381.3 286.5 L381.8 285.1 L382.3 281.9 L382.8 280.3 L383.3 280.4 L383.8 278.6 L384.3 276.0 L384.8 269.3 L385.3 262.8 L385.8 259.0 L386.3 254.3 L386.8 250.6 L387.3 249.3 L387.8 245.3 L388.3 245.3 L388.8 246.3 L389.3 247.0 L389.8 248.2 L390.3 248.4 L390.8 247.6 L391.3 246.7 L391.8 245.1 L392.3 245.3 L392.8 245.9 L393.3 249.9 L393.8 248.5 L394.3 251.2 L394.8 255.8 L395.3 257.6 L395.8 259.5 L396.3 261.2 L396.8 264.4 L397.3 269.3 L397.8 275.2 L398.3 278.9 L398.8 282.9 L399.3 285.8 L399.8 288.3 L400.3 288.6 L400.8 290.9 L401.3 296.1 L401.8 303.5 L402.3 308.1 L402.8 311.6 L403.3 314.8 L403.8 317.9 L404.3 320.2 L404.8 322.1 L405.3 323.8 L405.8 325.5 L406.3 327.3 L406.8 328.5 L407.3 329.4 L407.3 329.4 Z"/>
<path class="thin" d="M378.3 308.8 L379.0 307.1 L379.7 302.5 L380.4 296.5 L381.1 290.0 L381.8 291.9 L382.5 287.9 L383.2 279.4 L383.9 282.1 L384.6 274.3 L385.3 270.8 L386.0 270.3 L386.7 271.7 L387.4 265.9 L388.1 264.9 L388.8 260.3 L389.5 264.1 L390.2 256.8 L390.9 269.7 L391.6 265.8 L392.3 267.1 L393.0 265.2 L393.7 272.5 L394.4 269.2 L395.1 274.4 L395.8 270.7 L396.5 269.1 L397.2 280.1 L397.9 281.7 L398.6 291.1 L399.3 289.9 L400.0 293.3 L400.7 300.0 L401.4 306.0 L402.1 304.7 L402.8 304.8 L403.5 306.4 L404.2 308.3 L404.9 315.2 L405.6 314.0 L406.3 311.1 L407.0 317.4 L407.7 314.3 L408.4 314.2 L409.1 317.0 L409.8 316.9 L410.5 319.6 L411.2 321.3 L411.9 319.9 L412.6 320.4 L413.3 320.5 L414.0 319.7 L414.7 321.3 L415.4 321.1 L416.1 321.2 L416.8 322.1 L417.5 320.0 L418.2 322.2 L418.9 322.9 L419.6 323.5 L420.3 324.3 L421.0 322.2 L421.7 323.8 L422.4 325.4 L423.1 325.0 L423.8 324.7 L424.5 325.3 L425.2 323.9 L425.9 326.4 L426.6 325.0 L427.3 325.5 L428.0 327.0 L428.7 326.0 L429.4 326.4 L430.1 326.1 L430.8 327.1 L431.5 326.7 L432.2 328.4 L432.9 328.1 L433.6 326.9 L434.3 326.9 L435.0 327.7 L435.7 328.1 L436.4 327.2 L437.1 329.2 L437.8 328.5 L438.5 327.8 L439.2 327.9 L439.9 328.8 L440.6 329.3 L441.3 327.8 L442.0 328.5 L442.7 329.1 L443.4 328.8 L444.1 328.7 L444.8 329.4 L445.5 328.9 L446.2 329.1 L446.9 329.4"/>
<path class="thick" d="M378.3 320.3 L379.0 324.2 L379.7 319.3 L380.4 320.3 L381.1 317.0 L381.8 321.6 L382.5 320.4 L383.2 318.4 L383.9 321.1 L384.6 321.1 L385.3 320.3 L386.0 319.6 L386.7 321.2 L387.4 318.2 L388.1 317.9 L388.8 318.5 L389.5 315.3 L390.2 318.9 L390.9 315.5 L391.6 318.8 L392.3 315.8 L393.0 320.8 L393.7 316.0 L394.4 316.4 L395.1 316.6 L395.8 316.4 L396.5 315.5 L397.2 315.9 L397.9 318.7 L398.6 314.7 L399.3 314.2 L400.0 313.7 L400.7 314.6 L401.4 312.0 L402.1 309.3 L402.8 311.4 L403.5 311.5 L404.2 306.5 L404.9 307.0 L405.6 306.9 L406.3 306.1 L407.0 309.8 L407.7 309.2 L408.4 305.8 L409.1 310.0 L409.8 308.8 L410.5 307.4 L411.2 307.3 L411.9 308.8 L412.6 305.4 L413.3 308.3 L414.0 305.8 L414.7 304.8 L415.4 305.7 L416.1 305.4 L416.8 310.3 L417.5 310.5 L418.2 308.5 L418.9 305.4 L419.6 302.4 L420.3 309.7 L421.0 305.3 L421.7 308.3 L422.4 307.8 L423.1 306.4 L423.8 303.6 L424.5 304.7 L425.2 301.8 L425.9 307.7 L426.6 302.3 L427.3 302.0 L428.0 304.3 L428.7 303.0 L429.4 305.9 L430.1 307.6 L430.8 306.0 L431.5 307.0 L432.2 297.5 L432.9 307.2 L433.6 301.8 L434.3 306.1 L435.0 306.1 L435.7 305.4 L436.4 309.8 L437.1 305.6 L437.8 307.4 L438.5 312.7 L439.2 307.6 L439.9 308.1 L440.6 308.7 L441.3 306.3 L442.0 311.6 L442.7 309.6 L443.4 309.3 L444.1 313.5 L444.8 308.7 L445.5 315.2 L446.2 315.0 L446.9 310.9 L447.6 314.9 L448.3 312.8 L449.0 316.5 L449.7 312.7 L450.4 315.7 L451.1 312.5 L451.8 316.9 L452.5 312.6 L453.2 314.4 L453.9 313.9 L454.6 314.4 L455.3 314.3 L456.0 318.0 L456.7 321.2 L457.4 316.5 L458.1 319.1 L458.8 318.8 L459.5 317.8 L460.2 322.9 L460.9 321.3 L461.6 321.7 L462.3 323.1 L463.0 321.6 L463.7 322.9 L464.4 324.4 L465.1 325.0 L465.8 323.0 L466.5 325.2 L467.2 324.0 L467.9 324.5 L468.6 327.6 L469.3 326.9 L470.0 326.1 L470.7 326.1 L471.4 326.1 L472.1 326.5 L472.8 326.7 L473.5 328.1 L474.2 328.3 L474.9 328.0 L475.6 328.8 L476.3 328.3 L477.0 329.4 L477.7 328.9 L478.4 329.4 L479.1 329.4"/>
<path class="ax" d="M378.3 186.3 V329.4 H507.7"/>
<path class="ax" style="stroke-width:0.9" d="M378.3 329.4 h-1.8 M378.3 293.6 h-1.8 M378.3 257.8 h-1.8 M378.3 222.1 h-1.8 M378.3 186.3 h-1.8"/>
<path d="M378.30 329.4 v2.2 M410.65 329.4 v2.2 M443.00 329.4 v2.2 M475.35 329.4 v2.2 M507.70 329.4 v2.2" stroke="#111" stroke-width="0.9" fill="none"/>
<path d="M388.04 329.4 v1.5 M393.73 329.4 v1.5 M397.78 329.4 v1.5 M400.91 329.4 v1.5 M403.47 329.4 v1.5 M405.64 329.4 v1.5 M407.51 329.4 v1.5 M409.17 329.4 v1.5 M420.39 329.4 v1.5 M426.08 329.4 v1.5 M430.13 329.4 v1.5 M433.26 329.4 v1.5 M435.82 329.4 v1.5 M437.99 329.4 v1.5 M439.86 329.4 v1.5 M441.52 329.4 v1.5 M452.74 329.4 v1.5 M458.43 329.4 v1.5 M462.48 329.4 v1.5 M465.61 329.4 v1.5 M468.17 329.4 v1.5 M470.34 329.4 v1.5 M472.21 329.4 v1.5 M473.87 329.4 v1.5 M485.09 329.4 v1.5 M490.78 329.4 v1.5 M494.83 329.4 v1.5 M497.96 329.4 v1.5 M500.52 329.4 v1.5 M502.69 329.4 v1.5 M504.56 329.4 v1.5 M506.22 329.4 v1.5" stroke="#333" stroke-width="0.7" fill="none"/>
<g transform="translate(374.8 340.4) scale(0.84 1)"><text class="tk" x="0" y="0" dx="0 -0.5">10</text><text class="sup" x="12.6" y="-3.1">0</text></g>
<g transform="translate(407.2 340.4) scale(0.84 1)"><text class="tk" x="0" y="0" dx="0 -0.5">10</text><text class="sup" x="12.6" y="-3.1">1</text></g>
<g transform="translate(439.5 340.4) scale(0.84 1)"><text class="tk" x="0" y="0" dx="0 -0.5">10</text><text class="sup" x="12.6" y="-3.1">2</text></g>
<g transform="translate(471.9 340.4) scale(0.84 1)"><text class="tk" x="0" y="0" dx="0 -0.5">10</text><text class="sup" x="12.6" y="-3.1">3</text></g>
<g transform="translate(504.2 340.4) scale(0.84 1)"><text class="tk" x="0" y="0" dx="0 -0.5">10</text><text class="sup" x="12.6" y="-3.1">4</text></g>
<text class="yl" transform="translate(374.1 189.7) rotate(-90) scale(1.03 1)">64</text>
<text class="yl" transform="translate(374.3 330.6) rotate(-90) scale(1.03 1)">0</text>
<text class="t" x="437.7" y="222.8">G/5C5</text>
</g>
<g>
<path class="ctrl" d="M21.0 505.5 L21.0 469.0 L21.5 468.5 L22.0 467.8 L22.5 467.6 L23.0 466.2 L23.5 463.4 L24.0 462.8 L24.5 462.5 L25.0 459.1 L25.5 458.0 L26.0 456.3 L26.5 455.5 L27.0 453.2 L27.5 447.2 L28.0 439.1 L28.5 436.0 L29.0 429.6 L29.5 428.2 L30.0 425.6 L30.5 422.0 L31.0 421.9 L31.5 424.0 L32.0 423.3 L32.5 425.9 L33.0 424.8 L33.5 422.1 L34.0 422.2 L34.5 422.0 L35.0 420.1 L35.5 420.7 L36.0 423.1 L36.5 426.4 L37.0 427.7 L37.5 429.9 L38.0 432.2 L38.5 433.3 L39.0 436.4 L39.5 438.7 L40.0 442.3 L40.5 446.7 L41.0 453.0 L41.5 455.7 L42.0 461.8 L42.5 462.4 L43.0 464.5 L43.5 465.0 L44.0 468.4 L44.5 475.4 L45.0 481.1 L45.5 485.5 L46.0 488.7 L46.5 492.2 L47.0 494.9 L47.5 497.2 L48.0 498.0 L48.5 500.5 L49.0 502.3 L49.5 503.9 L50.0 504.7 L50.5 505.5 L50.5 505.5 Z"/>
<path class="thin" d="M21.0 472.4 L21.7 471.7 L22.4 471.8 L23.1 467.5 L23.8 470.9 L24.5 466.3 L25.2 465.3 L25.9 466.2 L26.6 461.2 L27.3 461.2 L28.0 455.4 L28.7 470.9 L29.4 461.5 L30.1 461.9 L30.8 460.1 L31.5 457.2 L32.2 457.5 L32.9 459.0 L33.6 461.0 L34.3 458.1 L35.0 458.9 L35.7 467.0 L36.4 463.5 L37.1 469.5 L37.8 471.9 L38.5 471.0 L39.2 474.0 L39.9 476.3 L40.6 481.0 L41.3 480.9 L42.0 483.6 L42.7 480.9 L43.4 480.6 L44.1 478.4 L44.8 479.9 L45.5 485.1 L46.2 484.6 L46.9 486.1 L47.6 483.5 L48.3 479.8 L49.0 482.6 L49.7 489.1 L50.4 486.6 L51.1 486.5 L51.8 482.0 L52.5 482.9 L53.2 482.0 L53.9 478.2 L54.6 484.1 L55.3 483.9 L56.0 476.9 L56.7 480.7 L57.4 483.6 L58.1 487.1 L58.8 486.5 L59.5 489.2 L60.2 484.1 L60.9 484.8 L61.6 483.4 L62.3 486.5 L63.0 488.4 L63.7 489.1 L64.4 484.4 L65.1 492.5 L65.8 489.1 L66.5 489.7 L67.2 488.8 L67.9 490.9 L68.6 489.3 L69.3 488.9 L70.0 490.9 L70.7 491.6 L71.4 491.2 L72.1 492.8 L72.8 491.5 L73.5 491.9 L74.2 491.1 L74.9 489.3 L75.6 489.9 L76.3 493.6 L77.0 492.3 L77.7 493.4 L78.4 493.3 L79.1 495.0 L79.8 495.2 L80.5 496.9 L81.2 497.9 L81.9 496.1 L82.6 496.2 L83.3 497.5 L84.0 498.3 L84.7 498.8 L85.4 500.0 L86.1 501.9 L86.8 499.4 L87.5 500.2 L88.2 501.4 L88.9 502.1 L89.6 500.1 L90.3 503.5 L91.0 500.4 L91.7 501.8 L92.4 500.7 L93.1 503.5 L93.8 503.1 L94.5 503.6 L95.2 503.3 L95.9 503.7 L96.6 504.2 L97.3 503.1 L98.0 504.4 L98.7 504.3 L99.4 503.8 L100.1 504.6 L100.8 504.6 L101.5 504.4 L102.2 504.8 L102.9 505.3 L103.6 505.0 L104.3 505.2 L105.0 504.7 L105.7 505.5 L106.4 505.2"/>
<path class="thick" d="M21.0 498.1 L21.7 497.2 L22.4 496.9 L23.1 495.7 L23.8 494.5 L24.5 492.7 L25.2 496.8 L25.9 493.1 L26.6 493.5 L27.3 493.6 L28.0 496.3 L28.7 493.1 L29.4 494.8 L30.1 493.7 L30.8 494.7 L31.5 492.7 L32.2 491.7 L32.9 491.4 L33.6 493.9 L34.3 491.2 L35.0 489.8 L35.7 494.3 L36.4 488.8 L37.1 494.3 L37.8 489.9 L38.5 489.3 L39.2 486.9 L39.9 489.1 L40.6 490.4 L41.3 490.7 L42.0 491.4 L42.7 486.2 L43.4 488.1 L44.1 488.9 L44.8 485.4 L45.5 488.2 L46.2 486.9 L46.9 486.6 L47.6 480.7 L48.3 480.9 L49.0 484.9 L49.7 488.5 L50.4 483.6 L51.1 484.0 L51.8 483.2 L52.5 482.5 L53.2 484.8 L53.9 481.4 L54.6 481.5 L55.3 483.1 L56.0 484.7 L56.7 484.8 L57.4 481.5 L58.1 486.2 L58.8 483.6 L59.5 485.1 L60.2 486.7 L60.9 481.0 L61.6 482.4 L62.3 481.8 L63.0 479.1 L63.7 485.4 L64.4 481.0 L65.1 479.6 L65.8 477.6 L66.5 482.8 L67.2 477.2 L67.9 478.2 L68.6 474.2 L69.3 474.0 L70.0 474.8 L70.7 468.8 L71.4 474.5 L72.1 474.9 L72.8 473.6 L73.5 474.9 L74.2 471.7 L74.9 478.5 L75.6 474.0 L76.3 473.8 L77.0 473.6 L77.7 479.1 L78.4 475.5 L79.1 482.8 L79.8 482.7 L80.5 488.6 L81.2 486.6 L81.9 487.6 L82.6 482.9 L83.3 486.2 L84.0 491.0 L84.7 488.2 L85.4 489.3 L86.1 491.8 L86.8 492.2 L87.5 493.7 L88.2 494.8 L88.9 497.6 L89.6 494.9 L90.3 493.0 L91.0 493.3 L91.7 496.7 L92.4 498.0 L93.1 497.6 L93.8 496.4 L94.5 497.7 L95.2 499.6 L95.9 498.7 L96.6 500.0 L97.3 499.5 L98.0 501.0 L98.7 502.5 L99.4 500.9 L100.1 500.3 L100.8 502.7 L101.5 501.8 L102.2 500.9 L102.9 502.5 L103.6 503.0 L104.3 500.6 L105.0 502.0 L105.7 502.1 L106.4 504.0 L107.1 502.1 L107.8 504.9 L108.5 504.3 L109.2 503.7 L109.9 503.7 L110.6 505.1 L111.3 505.2 L112.0 505.1 L112.7 505.5 L113.4 505.3"/>
<path class="ax" d="M21.0 361.5 V505.5 H152.2"/>
<path class="ax" style="stroke-width:0.9" d="M21.0 505.5 h-1.8 M21.0 469.5 h-1.8 M21.0 433.5 h-1.8 M21.0 397.5 h-1.8 M21.0 361.5 h-1.8"/>
<path d="M21.00 505.5 v2.2 M53.80 505.5 v2.2 M86.60 505.5 v2.2 M119.40 505.5 v2.2 M152.20 505.5 v2.2" stroke="#111" stroke-width="0.9" fill="none"/>
<path d="M30.87 505.5 v1.5 M36.65 505.5 v1.5 M40.75 505.5 v1.5 M43.93 505.5 v1.5 M46.52 505.5 v1.5 M48.72 505.5 v1.5 M50.62 505.5 v1.5 M52.30 505.5 v1.5 M63.67 505.5 v1.5 M69.45 505.5 v1.5 M73.55 505.5 v1.5 M76.73 505.5 v1.5 M79.32 505.5 v1.5 M81.52 505.5 v1.5 M83.42 505.5 v1.5 M85.10 505.5 v1.5 M96.47 505.5 v1.5 M102.25 505.5 v1.5 M106.35 505.5 v1.5 M109.53 505.5 v1.5 M112.12 505.5 v1.5 M114.32 505.5 v1.5 M116.22 505.5 v1.5 M117.90 505.5 v1.5 M129.27 505.5 v1.5 M135.05 505.5 v1.5 M139.15 505.5 v1.5 M142.33 505.5 v1.5 M144.92 505.5 v1.5 M147.12 505.5 v1.5 M149.02 505.5 v1.5 M150.70 505.5 v1.5" stroke="#333" stroke-width="0.7" fill="none"/>
<g transform="translate(17.5 516.5) scale(0.84 1)"><text class="tk" x="0" y="0" dx="0 -0.5">10</text><text class="sup" x="12.6" y="-3.1">0</text></g>
<g transform="translate(50.3 516.5) scale(0.84 1)"><text class="tk" x="0" y="0" dx="0 -0.5">10</text><text class="sup" x="12.6" y="-3.1">1</text></g>
<g transform="translate(83.1 516.5) scale(0.84 1)"><text class="tk" x="0" y="0" dx="0 -0.5">10</text><text class="sup" x="12.6" y="-3.1">2</text></g>
<g transform="translate(115.9 516.5) scale(0.84 1)"><text class="tk" x="0" y="0" dx="0 -0.5">10</text><text class="sup" x="12.6" y="-3.1">3</text></g>
<g transform="translate(148.7 516.5) scale(0.84 1)"><text class="tk" x="0" y="0" dx="0 -0.5">10</text><text class="sup" x="12.6" y="-3.1">4</text></g>
<text class="yl" transform="translate(16.8 364.9) rotate(-90) scale(1.03 1)">64</text>
<text class="yl" transform="translate(17.0 506.7) rotate(-90) scale(1.03 1)">0</text>
<text class="ev" transform="translate(9.5 445.6) rotate(-90) scale(0.92 1)">Events</text>
<text class="t" x="83.4" y="399.9">G/5B3</text>
</g>
<g>
<path class="ctrl" d="M199.2 505.1 L199.2 469.0 L199.7 468.7 L200.2 467.4 L200.7 466.4 L201.2 465.5 L201.7 463.7 L202.2 461.2 L202.7 460.3 L203.2 458.2 L203.7 457.3 L204.2 455.4 L204.7 455.3 L205.2 451.7 L205.7 445.4 L206.2 438.8 L206.7 432.9 L207.2 430.5 L207.7 426.0 L208.2 423.7 L208.7 421.6 L209.2 422.8 L209.7 422.8 L210.2 423.7 L210.7 425.0 L211.2 423.7 L211.7 422.9 L212.2 421.8 L212.7 419.8 L213.2 421.5 L213.7 423.5 L214.2 425.3 L214.7 426.4 L215.2 429.2 L215.7 431.5 L216.2 433.4 L216.7 434.2 L217.2 436.9 L217.7 439.6 L218.2 445.4 L218.7 450.0 L219.2 453.9 L219.7 457.7 L220.2 462.8 L220.7 463.0 L221.2 463.5 L221.7 466.2 L222.2 472.8 L222.7 478.8 L223.2 483.7 L223.7 487.5 L224.2 491.0 L224.7 493.8 L225.2 495.5 L225.7 498.0 L226.2 499.3 L226.7 501.5 L227.2 503.0 L227.7 504.3 L228.2 505.1 L228.2 505.1 Z"/>
<path class="thin" d="M199.2 497.3 L199.9 498.6 L200.6 491.9 L201.3 495.7 L202.0 493.9 L202.7 490.1 L203.4 487.7 L204.1 485.6 L204.8 486.3 L205.5 484.5 L206.2 483.5 L206.9 483.6 L207.6 487.8 L208.3 479.4 L209.0 480.6 L209.7 480.5 L210.4 482.0 L211.1 479.6 L211.8 479.9 L212.5 479.7 L213.2 476.7 L213.9 483.5 L214.6 478.8 L215.3 482.0 L216.0 480.4 L216.7 476.1 L217.4 482.4 L218.1 480.1 L218.8 481.4 L219.5 477.9 L220.2 482.5 L220.9 484.3 L221.6 479.2 L222.3 481.4 L223.0 481.4 L223.7 478.2 L224.4 482.9 L225.1 481.8 L225.8 480.8 L226.5 480.3 L227.2 482.7 L227.9 479.3 L228.6 476.7 L229.3 482.9 L230.0 477.9 L230.7 487.1 L231.4 479.3 L232.1 483.4 L232.8 482.5 L233.5 483.7 L234.2 484.6 L234.9 486.1 L235.6 484.4 L236.3 480.8 L237.0 481.3 L237.7 484.8 L238.4 485.3 L239.1 485.8 L239.8 487.0 L240.5 480.7 L241.2 483.2 L241.9 484.5 L242.6 485.9 L243.3 487.1 L244.0 482.3 L244.7 483.5 L245.4 487.3 L246.1 483.3 L246.8 487.8 L247.5 484.2 L248.2 487.7 L248.9 486.6 L249.6 484.9 L250.3 485.2 L251.0 484.3 L251.7 488.7 L252.4 484.8 L253.1 486.1 L253.8 489.6 L254.5 489.6 L255.2 492.7 L255.9 492.4 L256.6 495.2 L257.3 493.7 L258.0 494.3 L258.7 493.3 L259.4 494.5 L260.1 495.2 L260.8 497.4 L261.5 497.7 L262.2 498.4 L262.9 498.2 L263.6 501.3 L264.3 498.7 L265.0 501.8 L265.7 501.2 L266.4 501.1 L267.1 502.0 L267.8 500.5 L268.5 502.1 L269.2 501.0 L269.9 501.5 L270.6 502.9 L271.3 502.4 L272.0 501.9 L272.7 503.3 L273.4 503.1 L274.1 503.7 L274.8 503.5 L275.5 503.9 L276.2 503.8 L276.9 503.5 L277.6 503.6 L278.3 504.4 L279.0 504.7 L279.7 504.7 L280.4 505.1"/>
<path class="thick" d="M199.2 502.8 L199.9 500.0 L200.6 501.8 L201.3 499.1 L202.0 500.9 L202.7 496.8 L203.4 500.1 L204.1 497.0 L204.8 495.4 L205.5 498.6 L206.2 494.3 L206.9 497.5 L207.6 498.6 L208.3 493.9 L209.0 493.4 L209.7 494.5 L210.4 498.2 L211.1 493.1 L211.8 492.9 L212.5 492.3 L213.2 491.3 L213.9 493.7 L214.6 490.4 L215.3 484.3 L216.0 484.0 L216.7 487.6 L217.4 487.7 L218.1 484.2 L218.8 481.8 L219.5 481.8 L220.2 485.8 L220.9 481.6 L221.6 480.9 L222.3 476.6 L223.0 476.4 L223.7 477.5 L224.4 474.7 L225.1 478.6 L225.8 472.2 L226.5 477.2 L227.2 474.0 L227.9 471.6 L228.6 476.4 L229.3 475.1 L230.0 477.6 L230.7 470.9 L231.4 471.1 L232.1 472.0 L232.8 469.7 L233.5 478.3 L234.2 472.2 L234.9 472.3 L235.6 473.8 L236.3 471.0 L237.0 468.5 L237.7 475.7 L238.4 477.6 L239.1 477.0 L239.8 475.4 L240.5 474.4 L241.2 479.0 L241.9 474.1 L242.6 480.3 L243.3 475.3 L244.0 476.7 L244.7 476.8 L245.4 472.3 L246.1 479.3 L246.8 479.3 L247.5 477.8 L248.2 476.9 L248.9 483.3 L249.6 479.1 L250.3 482.1 L251.0 478.6 L251.7 476.9 L252.4 480.8 L253.1 481.9 L253.8 482.1 L254.5 491.2 L255.2 483.2 L255.9 485.0 L256.6 487.1 L257.3 489.6 L258.0 491.6 L258.7 491.6 L259.4 490.0 L260.1 493.4 L260.8 491.3 L261.5 499.0 L262.2 495.7 L262.9 494.9 L263.6 495.9 L264.3 499.1 L265.0 498.0 L265.7 495.5 L266.4 499.8 L267.1 499.9 L267.8 500.5 L268.5 500.2 L269.2 499.2 L269.9 499.7 L270.6 503.1 L271.3 499.4 L272.0 501.9 L272.7 502.1 L273.4 500.1 L274.1 502.1 L274.8 503.4 L275.5 503.0 L276.2 503.3 L276.9 503.7 L277.6 503.4 L278.3 502.8 L279.0 503.4 L279.7 504.7 L280.4 502.4 L281.1 504.7 L281.8 504.2 L282.5 504.4 L283.2 504.2 L283.9 504.8 L284.6 504.6 L285.3 504.2 L286.0 505.0 L286.7 505.1"/>
<path class="ax" d="M199.2 362.0 V505.1 H328.6"/>
<path class="ax" style="stroke-width:0.9" d="M199.2 505.1 h-1.8 M199.2 469.3 h-1.8 M199.2 433.6 h-1.8 M199.2 397.8 h-1.8 M199.2 362.0 h-1.8"/>
<path d="M199.20 505.1 v2.2 M231.55 505.1 v2.2 M263.90 505.1 v2.2 M296.25 505.1 v2.2 M328.60 505.1 v2.2" stroke="#111" stroke-width="0.9" fill="none"/>
<path d="M208.94 505.1 v1.5 M214.63 505.1 v1.5 M218.68 505.1 v1.5 M221.81 505.1 v1.5 M224.37 505.1 v1.5 M226.54 505.1 v1.5 M228.41 505.1 v1.5 M230.07 505.1 v1.5 M241.29 505.1 v1.5 M246.98 505.1 v1.5 M251.03 505.1 v1.5 M254.16 505.1 v1.5 M256.72 505.1 v1.5 M258.89 505.1 v1.5 M260.76 505.1 v1.5 M262.42 505.1 v1.5 M273.64 505.1 v1.5 M279.33 505.1 v1.5 M283.38 505.1 v1.5 M286.51 505.1 v1.5 M289.07 505.1 v1.5 M291.24 505.1 v1.5 M293.11 505.1 v1.5 M294.77 505.1 v1.5 M305.99 505.1 v1.5 M311.68 505.1 v1.5 M315.73 505.1 v1.5 M318.86 505.1 v1.5 M321.42 505.1 v1.5 M323.59 505.1 v1.5 M325.46 505.1 v1.5 M327.12 505.1 v1.5" stroke="#333" stroke-width="0.7" fill="none"/>
<g transform="translate(195.7 516.1) scale(0.84 1)"><text class="tk" x="0" y="0" dx="0 -0.5">10</text><text class="sup" x="12.6" y="-3.1">0</text></g>
<g transform="translate(228.0 516.1) scale(0.84 1)"><text class="tk" x="0" y="0" dx="0 -0.5">10</text><text class="sup" x="12.6" y="-3.1">1</text></g>
<g transform="translate(260.4 516.1) scale(0.84 1)"><text class="tk" x="0" y="0" dx="0 -0.5">10</text><text class="sup" x="12.6" y="-3.1">2</text></g>
<g transform="translate(292.8 516.1) scale(0.84 1)"><text class="tk" x="0" y="0" dx="0 -0.5">10</text><text class="sup" x="12.6" y="-3.1">3</text></g>
<g transform="translate(325.1 516.1) scale(0.84 1)"><text class="tk" x="0" y="0" dx="0 -0.5">10</text><text class="sup" x="12.6" y="-3.1">4</text></g>
<text class="yl" transform="translate(195.0 365.4) rotate(-90) scale(1.03 1)">64</text>
<text class="yl" transform="translate(195.2 506.3) rotate(-90) scale(1.03 1)">0</text>
<text class="t" x="257.4" y="399.4">G/7F5</text>
</g>
<g>
<path class="ctrl" d="M378.9 505.0 L378.9 469.1 L379.4 468.8 L379.9 467.7 L380.4 466.6 L380.9 465.4 L381.4 464.1 L381.9 461.5 L382.4 460.1 L382.9 459.0 L383.4 456.4 L383.9 456.1 L384.4 454.2 L384.9 452.3 L385.4 445.0 L385.9 438.5 L386.4 436.0 L386.9 431.4 L387.4 427.9 L387.9 423.1 L388.4 424.0 L388.9 421.8 L389.4 422.5 L389.9 423.8 L390.4 423.9 L390.9 424.2 L391.4 422.7 L391.9 421.5 L392.4 420.4 L392.9 420.3 L393.4 422.2 L393.9 424.4 L394.4 426.3 L394.9 428.3 L395.4 432.6 L395.9 434.6 L396.4 435.7 L396.9 437.4 L397.4 440.0 L397.9 446.6 L398.4 450.5 L398.9 454.8 L399.4 458.0 L399.9 462.8 L400.4 463.6 L400.9 464.0 L401.4 466.3 L401.9 471.4 L402.4 478.1 L402.9 484.3 L403.4 487.3 L403.9 490.7 L404.4 493.7 L404.9 495.3 L405.4 497.8 L405.9 499.7 L406.4 501.4 L406.9 503.0 L407.4 504.0 L407.9 505.0 L407.9 505.0 Z"/>
<path class="thin" d="M378.1 496.6 L378.8 493.4 L379.5 491.0 L380.2 483.4 L380.9 483.0 L381.6 478.5 L382.3 473.8 L383.0 469.2 L383.7 461.8 L384.4 463.6 L385.1 457.5 L385.8 456.1 L386.5 457.9 L387.2 454.9 L387.9 449.0 L388.6 443.6 L389.3 441.1 L390.0 439.4 L390.7 441.6 L391.4 444.2 L392.1 440.7 L392.8 446.2 L393.5 449.8 L394.2 450.3 L394.9 457.5 L395.6 456.3 L396.3 458.2 L397.0 458.8 L397.7 458.8 L398.4 463.2 L399.1 464.9 L399.8 472.6 L400.5 471.5 L401.2 477.6 L401.9 476.7 L402.6 486.2 L403.3 482.6 L404.0 481.0 L404.7 487.7 L405.4 483.5 L406.1 483.1 L406.8 484.1 L407.5 488.9 L408.2 487.0 L408.9 488.9 L409.6 492.5 L410.3 490.7 L411.0 492.9 L411.7 493.5 L412.4 495.0 L413.1 494.2 L413.8 495.5 L414.5 494.3 L415.2 495.3 L415.9 496.6 L416.6 495.8 L417.3 493.9 L418.0 495.6 L418.7 494.3 L419.4 494.2 L420.1 495.4 L420.8 498.8 L421.5 495.4 L422.2 495.6 L422.9 495.9 L423.6 497.5 L424.3 495.2 L425.0 497.4 L425.7 498.5 L426.4 499.0 L427.1 498.1 L427.8 500.2 L428.5 500.5 L429.2 497.5 L429.9 498.7 L430.6 499.4 L431.3 499.5 L432.0 500.7 L432.7 503.1 L433.4 500.9 L434.1 501.3 L434.8 502.1 L435.5 504.1 L436.2 502.1 L436.9 502.2 L437.6 503.6 L438.3 503.4 L439.0 503.3 L439.7 504.0 L440.4 503.6 L441.1 504.3 L441.8 504.4 L442.5 504.8 L443.2 505.0"/>
<path class="thick" d="M378.1 500.7 L378.8 494.2 L379.5 497.4 L380.2 494.9 L380.9 494.3 L381.6 492.5 L382.3 493.6 L383.0 494.9 L383.7 493.0 L384.4 496.1 L385.1 492.2 L385.8 489.5 L386.5 495.3 L387.2 489.9 L387.9 487.9 L388.6 486.1 L389.3 490.4 L390.0 488.9 L390.7 491.0 L391.4 488.2 L392.1 483.5 L392.8 478.8 L393.5 486.1 L394.2 478.8 L394.9 480.4 L395.6 482.1 L396.3 473.9 L397.0 486.1 L397.7 478.0 L398.4 475.6 L399.1 468.1 L399.8 467.1 L400.5 463.6 L401.2 468.5 L401.9 463.6 L402.6 460.6 L403.3 462.5 L404.0 462.9 L404.7 465.0 L405.4 466.1 L406.1 469.2 L406.8 458.1 L407.5 466.3 L408.2 471.8 L408.9 463.2 L409.6 464.3 L410.3 464.1 L411.0 459.3 L411.7 467.1 L412.4 468.8 L413.1 471.5 L413.8 470.2 L414.5 472.4 L415.2 471.2 L415.9 462.6 L416.6 471.9 L417.3 476.4 L418.0 468.5 L418.7 472.3 L419.4 472.6 L420.1 472.9 L420.8 472.5 L421.5 472.8 L422.2 470.5 L422.9 471.7 L423.6 471.0 L424.3 477.1 L425.0 476.4 L425.7 479.3 L426.4 475.3 L427.1 476.6 L427.8 481.3 L428.5 479.6 L429.2 476.1 L429.9 482.7 L430.6 491.7 L431.3 492.7 L432.0 493.6 L432.7 496.4 L433.4 497.2 L434.1 497.2 L434.8 499.2 L435.5 501.5 L436.2 499.8 L436.9 501.3 L437.6 501.5 L438.3 502.6 L439.0 503.6 L439.7 503.7 L440.4 503.1 L441.1 503.8 L441.8 505.0 L442.5 502.6 L443.2 504.3 L443.9 504.2 L444.6 503.6 L445.3 505.0 L446.0 503.7 L446.7 504.8 L447.4 504.4 L448.1 504.9 L448.8 504.8 L449.5 505.0"/>
<path class="ax" d="M378.1 361.9 V505.0 H507.5"/>
<path class="ax" style="stroke-width:0.9" d="M378.1 505.0 h-1.8 M378.1 469.2 h-1.8 M378.1 433.4 h-1.8 M378.1 397.7 h-1.8 M378.1 361.9 h-1.8"/>
<path d="M378.10 505.0 v2.2 M410.45 505.0 v2.2 M442.80 505.0 v2.2 M475.15 505.0 v2.2 M507.50 505.0 v2.2" stroke="#111" stroke-width="0.9" fill="none"/>
<path d="M387.84 505.0 v1.5 M393.53 505.0 v1.5 M397.58 505.0 v1.5 M400.71 505.0 v1.5 M403.27 505.0 v1.5 M405.44 505.0 v1.5 M407.31 505.0 v1.5 M408.97 505.0 v1.5 M420.19 505.0 v1.5 M425.88 505.0 v1.5 M429.93 505.0 v1.5 M433.06 505.0 v1.5 M435.62 505.0 v1.5 M437.79 505.0 v1.5 M439.66 505.0 v1.5 M441.32 505.0 v1.5 M452.54 505.0 v1.5 M458.23 505.0 v1.5 M462.28 505.0 v1.5 M465.41 505.0 v1.5 M467.97 505.0 v1.5 M470.14 505.0 v1.5 M472.01 505.0 v1.5 M473.67 505.0 v1.5 M484.89 505.0 v1.5 M490.58 505.0 v1.5 M494.63 505.0 v1.5 M497.76 505.0 v1.5 M500.32 505.0 v1.5 M502.49 505.0 v1.5 M504.36 505.0 v1.5 M506.02 505.0 v1.5" stroke="#333" stroke-width="0.7" fill="none"/>
<g transform="translate(374.6 516.0) scale(0.84 1)"><text class="tk" x="0" y="0" dx="0 -0.5">10</text><text class="sup" x="12.6" y="-3.1">0</text></g>
<g transform="translate(407.0 516.0) scale(0.84 1)"><text class="tk" x="0" y="0" dx="0 -0.5">10</text><text class="sup" x="12.6" y="-3.1">1</text></g>
<g transform="translate(439.3 516.0) scale(0.84 1)"><text class="tk" x="0" y="0" dx="0 -0.5">10</text><text class="sup" x="12.6" y="-3.1">2</text></g>
<g transform="translate(471.7 516.0) scale(0.84 1)"><text class="tk" x="0" y="0" dx="0 -0.5">10</text><text class="sup" x="12.6" y="-3.1">3</text></g>
<g transform="translate(504.0 516.0) scale(0.84 1)"><text class="tk" x="0" y="0" dx="0 -0.5">10</text><text class="sup" x="12.6" y="-3.1">4</text></g>
<text class="yl" transform="translate(373.9 365.3) rotate(-90) scale(1.03 1)">64</text>
<text class="yl" transform="translate(374.1 506.2) rotate(-90) scale(1.03 1)">0</text>
<text class="fl" x="431.1" y="527.7">FL1-H</text>
<text class="t" x="437.7" y="398.7">G/1C11</text>
</g>
<g>
<path class="ctrl" d="M21.1 681.2 L21.1 680.1 L21.6 679.1 L22.1 673.6 L22.6 660.7 L23.1 646.9 L23.6 640.8 L24.1 635.3 L24.6 634.3 L25.1 634.4 L25.6 635.5 L26.1 639.6 L26.6 637.2 L27.1 636.6 L27.6 635.7 L28.1 635.5 L28.6 634.8 L29.1 634.4 L29.6 634.0 L30.1 629.4 L30.6 630.2 L31.1 632.1 L31.6 631.2 L32.1 633.6 L32.6 636.2 L33.1 635.4 L33.6 633.4 L34.1 632.1 L34.6 634.1 L35.1 635.4 L35.6 634.6 L36.1 635.6 L36.6 636.1 L37.1 634.8 L37.6 635.3 L38.1 636.3 L38.6 636.9 L39.1 637.6 L39.6 636.8 L40.1 636.1 L40.6 638.6 L41.1 636.4 L41.6 641.3 L42.1 639.8 L42.6 642.0 L43.1 641.4 L43.6 641.7 L44.1 641.8 L44.6 641.8 L45.1 644.6 L45.6 646.6 L46.1 647.1 L46.6 648.1 L47.1 650.6 L47.6 650.6 L48.1 651.4 L48.6 655.7 L49.1 655.6 L49.6 656.5 L50.1 660.5 L50.6 660.3 L51.1 662.3 L51.6 664.8 L52.1 664.4 L52.6 666.4 L53.1 667.7 L53.6 667.7 L54.1 668.3 L54.6 668.7 L55.1 669.3 L55.6 669.7 L56.1 671.0 L56.6 671.0 L57.1 671.1 L57.6 673.1 L58.1 670.9 L58.6 672.7 L59.1 673.5 L59.6 674.3 L60.1 673.7 L60.6 674.3 L61.1 675.0 L61.6 675.4 L62.1 676.0 L62.6 676.4 L63.1 676.4 L63.6 676.8 L64.1 676.6 L64.6 677.1 L65.1 677.3 L65.6 677.5 L66.1 677.4 L66.6 677.9 L67.1 678.3 L67.6 678.6 L68.1 679.1 L68.6 679.2 L69.1 679.2 L69.6 679.5 L70.1 679.9 L70.6 680.3 L71.1 680.5 L71.6 680.4 L72.1 680.5 L72.6 680.8 L73.1 681.2 L73.6 681.2 L73.6 681.2 Z"/>
<path class="thin" d="M21.1 679.3 L21.8 680.0 L22.5 679.1 L23.2 679.4 L23.9 679.8 L24.6 680.0 L25.3 678.6 L26.0 678.8 L26.7 679.7 L27.4 679.7 L28.1 678.3 L28.8 678.5 L29.5 679.1 L30.2 677.6 L30.9 679.0 L31.6 679.5 L32.3 677.8 L33.0 678.8 L33.7 678.3 L34.4 678.5 L35.1 679.3 L35.8 679.4 L36.5 678.5 L37.2 677.2 L37.9 679.1 L38.6 677.1 L39.3 678.0 L40.0 679.1 L40.7 677.9 L41.4 677.6 L42.1 678.8 L42.8 679.8 L43.5 677.6 L44.2 678.8 L44.9 677.3 L45.6 679.2 L46.3 677.2 L47.0 677.4 L47.7 677.8 L48.4 676.0 L49.1 675.1 L49.8 675.5 L50.5 675.9 L51.2 673.7 L51.9 675.9 L52.6 672.4 L53.3 672.0 L54.0 669.9 L54.7 670.6 L55.4 670.9 L56.1 670.6 L56.8 670.5 L57.5 671.9 L58.2 666.1 L58.9 666.0 L59.6 665.7 L60.3 665.6 L61.0 658.2 L61.7 658.3 L62.4 660.4 L63.1 654.1 L63.8 649.1 L64.5 652.1 L65.2 649.1 L65.9 649.3 L66.6 647.7 L67.3 639.9 L68.0 630.4 L68.7 636.3 L69.4 633.7 L70.1 627.0 L70.8 626.9 L71.5 619.1 L72.2 615.5 L72.9 621.2 L73.6 621.9 L74.3 619.4 L75.0 617.6 L75.7 621.5 L76.4 619.9 L77.1 631.4 L77.8 626.9 L78.5 632.9 L79.2 633.1 L79.9 635.7 L80.6 643.5 L81.3 645.1 L82.0 651.5 L82.7 651.0 L83.4 656.4 L84.1 657.3 L84.8 657.1 L85.5 660.4 L86.2 657.8 L86.9 663.1 L87.6 661.4 L88.3 664.0 L89.0 667.8 L89.7 667.7 L90.4 670.1 L91.1 670.6 L91.8 671.9 L92.5 670.3 L93.2 674.8 L93.9 673.8 L94.6 676.3 L95.3 678.8 L96.0 680.2 L96.7 678.3 L97.4 680.6 L98.1 679.4 L98.8 679.7 L99.5 680.3 L100.2 680.7 L100.9 680.8 L101.6 680.8 L102.3 681.1 L103.0 681.2"/>
<path class="thick" d="M21.1 679.7 L21.8 678.5 L22.5 679.8 L23.2 679.0 L23.9 680.1 L24.6 679.8 L25.3 680.2 L26.0 679.3 L26.7 678.5 L27.4 678.8 L28.1 679.4 L28.8 678.5 L29.5 679.2 L30.2 678.6 L30.9 678.6 L31.6 678.4 L32.3 680.9 L33.0 679.9 L33.7 678.0 L34.4 678.8 L35.1 676.6 L35.8 678.8 L36.5 679.0 L37.2 677.2 L37.9 678.0 L38.6 676.7 L39.3 677.9 L40.0 678.5 L40.7 677.6 L41.4 679.0 L42.1 678.6 L42.8 678.5 L43.5 678.0 L44.2 676.9 L44.9 678.0 L45.6 677.0 L46.3 677.8 L47.0 676.1 L47.7 680.1 L48.4 677.0 L49.1 676.4 L49.8 677.8 L50.5 675.1 L51.2 675.9 L51.9 674.4 L52.6 674.6 L53.3 674.9 L54.0 675.8 L54.7 676.8 L55.4 675.5 L56.1 675.7 L56.8 674.6 L57.5 675.4 L58.2 670.3 L58.9 676.7 L59.6 672.5 L60.3 674.6 L61.0 673.9 L61.7 671.8 L62.4 672.9 L63.1 674.5 L63.8 671.5 L64.5 672.2 L65.2 675.1 L65.9 670.9 L66.6 672.7 L67.3 671.8 L68.0 668.9 L68.7 668.5 L69.4 668.8 L70.1 662.9 L70.8 665.6 L71.5 667.0 L72.2 664.3 L72.9 664.2 L73.6 668.2 L74.3 666.0 L75.0 664.7 L75.7 655.3 L76.4 660.1 L77.1 659.6 L77.8 660.0 L78.5 655.9 L79.2 658.6 L79.9 654.3 L80.6 656.9 L81.3 654.8 L82.0 659.5 L82.7 658.4 L83.4 660.6 L84.1 660.0 L84.8 664.0 L85.5 660.6 L86.2 661.0 L86.9 659.5 L87.6 653.7 L88.3 655.6 L89.0 652.1 L89.7 652.4 L90.4 651.4 L91.1 650.3 L91.8 654.1 L92.5 649.1 L93.2 651.5 L93.9 651.3 L94.6 645.1 L95.3 641.0 L96.0 650.2 L96.7 640.5 L97.4 642.9 L98.1 648.2 L98.8 644.5 L99.5 644.2 L100.2 644.3 L100.9 646.9 L101.6 650.2 L102.3 646.3 L103.0 644.2 L103.7 645.1 L104.4 646.2 L105.1 645.9 L105.8 653.5 L106.5 651.8 L107.2 651.9 L107.9 651.2 L108.6 654.8 L109.3 655.0 L110.0 657.2 L110.7 653.3 L111.4 665.4 L112.1 661.0 L112.8 656.1 L113.5 662.7 L114.2 668.5 L114.9 665.1 L115.6 669.5 L116.3 668.7 L117.0 667.6 L117.7 665.4 L118.4 668.5 L119.1 668.8 L119.8 668.9 L120.5 671.1 L121.2 673.5 L121.9 672.9 L122.6 673.0 L123.3 674.5 L124.0 675.6 L124.7 675.6 L125.4 677.6 L126.1 677.4 L126.8 676.7 L127.5 677.4 L128.2 677.4 L128.9 676.5 L129.6 678.1 L130.3 678.9 L131.0 680.1 L131.7 680.3 L132.4 679.4 L133.1 680.4 L133.8 679.8 L134.5 680.8 L135.2 680.3 L135.9 680.5 L136.6 680.2 L137.3 680.9 L138.0 680.9 L138.7 680.7 L139.4 680.8 L140.1 680.2 L140.8 680.9 L141.5 681.0 L142.2 681.0 L142.9 680.7 L143.6 680.8 L144.3 680.7 L145.0 681.2 L145.7 680.1 L146.4 680.3 L147.1 681.0 L147.8 681.2 L148.5 680.9 L149.2 680.9 L149.9 681.2 L150.6 681.2"/>
<path class="ax" d="M21.1 537.3 V681.2 H152.1"/>
<path class="ax" style="stroke-width:0.9" d="M21.1 681.2 h-1.8 M21.1 645.2 h-1.8 M21.1 609.2 h-1.8 M21.1 573.3 h-1.8 M21.1 537.3 h-1.8"/>
<path d="M21.10 681.2 v2.2 M53.85 681.2 v2.2 M86.60 681.2 v2.2 M119.35 681.2 v2.2 M152.10 681.2 v2.2" stroke="#111" stroke-width="0.9" fill="none"/>
<path d="M30.96 681.2 v1.5 M36.73 681.2 v1.5 M40.82 681.2 v1.5 M43.99 681.2 v1.5 M46.58 681.2 v1.5 M48.78 681.2 v1.5 M50.68 681.2 v1.5 M52.35 681.2 v1.5 M63.71 681.2 v1.5 M69.48 681.2 v1.5 M73.57 681.2 v1.5 M76.74 681.2 v1.5 M79.33 681.2 v1.5 M81.53 681.2 v1.5 M83.43 681.2 v1.5 M85.10 681.2 v1.5 M96.46 681.2 v1.5 M102.23 681.2 v1.5 M106.32 681.2 v1.5 M109.49 681.2 v1.5 M112.08 681.2 v1.5 M114.28 681.2 v1.5 M116.18 681.2 v1.5 M117.85 681.2 v1.5 M129.21 681.2 v1.5 M134.98 681.2 v1.5 M139.07 681.2 v1.5 M142.24 681.2 v1.5 M144.83 681.2 v1.5 M147.03 681.2 v1.5 M148.93 681.2 v1.5 M150.60 681.2 v1.5" stroke="#333" stroke-width="0.7" fill="none"/>
<g transform="translate(17.6 692.2) scale(0.84 1)"><text class="tk" x="0" y="0" dx="0 -0.5">10</text><text class="sup" x="12.6" y="-3.1">0</text></g>
<g transform="translate(50.4 692.2) scale(0.84 1)"><text class="tk" x="0" y="0" dx="0 -0.5">10</text><text class="sup" x="12.6" y="-3.1">1</text></g>
<g transform="translate(83.1 692.2) scale(0.84 1)"><text class="tk" x="0" y="0" dx="0 -0.5">10</text><text class="sup" x="12.6" y="-3.1">2</text></g>
<g transform="translate(115.8 692.2) scale(0.84 1)"><text class="tk" x="0" y="0" dx="0 -0.5">10</text><text class="sup" x="12.6" y="-3.1">3</text></g>
<g transform="translate(148.6 692.2) scale(0.84 1)"><text class="tk" x="0" y="0" dx="0 -0.5">10</text><text class="sup" x="12.6" y="-3.1">4</text></g>
<text class="yl" transform="translate(16.9 540.7) rotate(-90) scale(1.03 1)">64</text>
<text class="yl" transform="translate(17.1 682.4) rotate(-90) scale(1.03 1)">0</text>
<text class="ev" transform="translate(9.6 621.3) rotate(-90) scale(0.92 1)">Events</text>
<text class="fl" x="74.1" y="703.9">FL1-H</text>
<text class="t" x="83.2" y="564.2">polyclonal</text>
</g>
<g>
<path class="ctrl" d="M199.5 681.2 L199.5 646.2 L200.0 644.4 L200.5 643.0 L201.0 642.4 L201.5 642.6 L202.0 639.4 L202.5 637.7 L203.0 636.4 L203.5 634.2 L204.0 632.3 L204.5 632.3 L205.0 631.1 L205.5 628.5 L206.0 621.0 L206.5 616.7 L207.0 609.4 L207.5 607.4 L208.0 602.7 L208.5 601.8 L209.0 599.5 L209.5 599.2 L210.0 598.9 L210.5 601.6 L211.0 600.2 L211.5 600.5 L212.0 598.0 L212.5 598.2 L213.0 596.6 L213.5 597.1 L214.0 596.7 L214.5 600.1 L215.0 601.9 L215.5 603.0 L216.0 607.3 L216.5 609.2 L217.0 612.0 L217.5 612.8 L218.0 617.1 L218.5 620.3 L219.0 626.2 L219.5 631.2 L220.0 635.0 L220.5 636.8 L221.0 639.2 L221.5 641.2 L222.0 641.3 L222.5 647.7 L223.0 654.1 L223.5 659.4 L224.0 663.7 L224.5 666.9 L225.0 669.4 L225.5 671.2 L226.0 673.3 L226.5 675.7 L227.0 677.1 L227.5 678.9 L228.0 680.1 L228.5 680.9 L229.0 681.2 L229.0 681.2 Z"/>
<path class="thin" d="M198.6 680.9 L199.3 680.9 L200.0 680.8 L200.7 680.6 L201.4 680.2 L202.1 680.9 L202.8 679.7 L203.5 680.6 L204.2 680.6 L204.9 680.0 L205.6 680.1 L206.3 680.4 L207.0 680.7 L207.7 680.7 L208.4 681.0 L209.1 679.6 L209.8 679.6 L210.5 679.2 L211.2 679.8 L211.9 679.9 L212.6 679.7 L213.3 679.5 L214.0 680.1 L214.7 679.8 L215.4 678.8 L216.1 680.8 L216.8 680.7 L217.5 680.4 L218.2 679.4 L218.9 679.2 L219.6 680.0 L220.3 679.4 L221.0 679.8 L221.7 679.6 L222.4 680.0 L223.1 679.7 L223.8 679.7 L224.5 679.0 L225.2 678.3 L225.9 680.7 L226.6 679.2 L227.3 679.5 L228.0 678.9 L228.7 678.8 L229.4 679.0 L230.1 678.9 L230.8 680.0 L231.5 680.4 L232.2 677.8 L232.9 677.8 L233.6 679.2 L234.3 677.2 L235.0 677.4 L235.7 679.9 L236.4 676.7 L237.1 678.2 L237.8 675.8 L238.5 677.4 L239.2 677.2 L239.9 677.9 L240.6 676.2 L241.3 674.6 L242.0 676.2 L242.7 677.4 L243.4 672.4 L244.1 672.5 L244.8 673.6 L245.5 674.7 L246.2 675.1 L246.9 675.2 L247.6 671.6 L248.3 669.9 L249.0 672.8 L249.7 670.6 L250.4 670.5 L251.1 669.8 L251.8 668.0 L252.5 664.7 L253.2 668.8 L253.9 665.6 L254.6 664.5 L255.3 666.2 L256.0 664.9 L256.7 665.9 L257.4 659.3 L258.1 661.2 L258.8 659.8 L259.5 656.6 L260.2 657.2 L260.9 656.1 L261.6 652.6 L262.3 646.3 L263.0 649.1 L263.7 645.5 L264.4 649.4 L265.1 649.0 L265.8 635.4 L266.5 639.4 L267.2 640.3 L267.9 632.9 L268.6 627.7 L269.3 633.1 L270.0 627.8 L270.7 621.7 L271.4 624.4 L272.1 616.8 L272.8 615.8 L273.5 618.3 L274.2 622.7 L274.9 622.6 L275.6 626.1 L276.3 625.8 L277.0 625.9 L277.7 629.7 L278.4 627.0 L279.1 623.4 L279.8 636.0 L280.5 635.9 L281.2 638.0 L281.9 642.3 L282.6 648.6 L283.3 653.0 L284.0 653.1 L284.7 657.6 L285.4 661.0 L286.1 666.0 L286.8 665.2 L287.5 666.9 L288.2 670.4 L288.9 671.0 L289.6 670.9 L290.3 677.5 L291.0 675.7 L291.7 678.2 L292.4 678.9 L293.1 678.5 L293.8 678.5 L294.5 679.5 L295.2 680.7 L295.9 681.1 L296.6 681.0 L297.3 681.1 L298.0 681.2"/>
<path class="thick" d="M198.6 670.4 L199.3 663.5 L200.0 668.7 L200.7 667.1 L201.4 667.7 L202.1 667.6 L202.8 666.1 L203.5 666.6 L204.2 664.4 L204.9 668.2 L205.6 668.6 L206.3 660.9 L207.0 665.2 L207.7 663.1 L208.4 662.0 L209.1 663.2 L209.8 664.1 L210.5 667.5 L211.2 667.3 L211.9 660.9 L212.6 661.1 L213.3 660.9 L214.0 665.8 L214.7 666.6 L215.4 663.5 L216.1 663.4 L216.8 659.6 L217.5 662.1 L218.2 655.0 L218.9 660.2 L219.6 659.6 L220.3 655.4 L221.0 656.3 L221.7 659.1 L222.4 653.8 L223.1 650.1 L223.8 658.3 L224.5 654.9 L225.2 656.7 L225.9 658.6 L226.6 650.5 L227.3 649.6 L228.0 648.1 L228.7 649.1 L229.4 656.0 L230.1 649.3 L230.8 651.0 L231.5 652.6 L232.2 652.7 L232.9 647.4 L233.6 651.3 L234.3 644.9 L235.0 650.0 L235.7 657.7 L236.4 649.9 L237.1 649.5 L237.8 653.6 L238.5 657.7 L239.2 649.8 L239.9 659.0 L240.6 656.1 L241.3 661.7 L242.0 660.4 L242.7 662.0 L243.4 655.0 L244.1 655.3 L244.8 659.9 L245.5 662.8 L246.2 660.0 L246.9 659.3 L247.6 664.6 L248.3 664.1 L249.0 661.9 L249.7 660.4 L250.4 662.4 L251.1 662.0 L251.8 666.5 L252.5 669.8 L253.2 664.0 L253.9 667.4 L254.6 666.4 L255.3 667.6 L256.0 666.5 L256.7 669.7 L257.4 666.1 L258.1 669.5 L258.8 669.3 L259.5 669.8 L260.2 669.9 L260.9 671.7 L261.6 675.8 L262.3 674.6 L263.0 671.4 L263.7 673.9 L264.4 674.0 L265.1 674.4 L265.8 676.2 L266.5 676.4 L267.2 676.6 L267.9 674.5 L268.6 675.8 L269.3 674.3 L270.0 676.1 L270.7 674.8 L271.4 676.7 L272.1 678.7 L272.8 675.9 L273.5 677.6 L274.2 676.9 L274.9 678.1 L275.6 678.8 L276.3 678.5 L277.0 679.8 L277.7 680.0 L278.4 680.0 L279.1 679.8 L279.8 680.6 L280.5 679.9 L281.2 679.9 L281.9 679.1 L282.6 679.5 L283.3 680.6 L284.0 680.4 L284.7 681.0 L285.4 680.9 L286.1 681.1 L286.8 681.2"/>
<path class="ax" d="M198.6 538.1 V681.2 H328.4"/>
<path class="ax" style="stroke-width:0.9" d="M198.6 681.2 h-1.8 M198.6 645.4 h-1.8 M198.6 609.7 h-1.8 M198.6 573.9 h-1.8 M198.6 538.1 h-1.8"/>
<path d="M198.60 681.2 v2.2 M231.05 681.2 v2.2 M263.50 681.2 v2.2 M295.95 681.2 v2.2 M328.40 681.2 v2.2" stroke="#111" stroke-width="0.9" fill="none"/>
<path d="M208.37 681.2 v1.5 M214.08 681.2 v1.5 M218.14 681.2 v1.5 M221.28 681.2 v1.5 M223.85 681.2 v1.5 M226.02 681.2 v1.5 M227.91 681.2 v1.5 M229.57 681.2 v1.5 M240.82 681.2 v1.5 M246.53 681.2 v1.5 M250.59 681.2 v1.5 M253.73 681.2 v1.5 M256.30 681.2 v1.5 M258.47 681.2 v1.5 M260.36 681.2 v1.5 M262.02 681.2 v1.5 M273.27 681.2 v1.5 M278.98 681.2 v1.5 M283.04 681.2 v1.5 M286.18 681.2 v1.5 M288.75 681.2 v1.5 M290.92 681.2 v1.5 M292.81 681.2 v1.5 M294.47 681.2 v1.5 M305.72 681.2 v1.5 M311.43 681.2 v1.5 M315.49 681.2 v1.5 M318.63 681.2 v1.5 M321.20 681.2 v1.5 M323.37 681.2 v1.5 M325.26 681.2 v1.5 M326.92 681.2 v1.5" stroke="#333" stroke-width="0.7" fill="none"/>
<g transform="translate(195.1 692.2) scale(0.84 1)"><text class="tk" x="0" y="0" dx="0 -0.5">10</text><text class="sup" x="12.6" y="-3.1">0</text></g>
<g transform="translate(227.6 692.2) scale(0.84 1)"><text class="tk" x="0" y="0" dx="0 -0.5">10</text><text class="sup" x="12.6" y="-3.1">1</text></g>
<g transform="translate(260.0 692.2) scale(0.84 1)"><text class="tk" x="0" y="0" dx="0 -0.5">10</text><text class="sup" x="12.6" y="-3.1">2</text></g>
<g transform="translate(292.4 692.2) scale(0.84 1)"><text class="tk" x="0" y="0" dx="0 -0.5">10</text><text class="sup" x="12.6" y="-3.1">3</text></g>
<g transform="translate(324.9 692.2) scale(0.84 1)"><text class="tk" x="0" y="0" dx="0 -0.5">10</text><text class="sup" x="12.6" y="-3.1">4</text></g>
<text class="yl" transform="translate(194.4 541.5) rotate(-90) scale(1.03 1)">64</text>
<text class="yl" transform="translate(194.6 682.4) rotate(-90) scale(1.03 1)">0</text>
<text class="fl" x="251.6" y="703.9">FL1-H</text>
<text class="t" x="257.6" y="564.6">CB26</text>
</g>
<g>
<path d="M385.6 585.3 H405.7" stroke="#111" stroke-width="1.1"/>
<path d="M385.6 609 H405.7" stroke="#000" stroke-width="2.7"/>
<rect x="386.2" y="627.7" width="19" height="10" fill="url(#ht)" stroke="#1a1a1a" stroke-width="1.3"/><path d="M386 638.2 H405.6" stroke="#111" stroke-width="1"/>
<text class="t" x="410.8" y="592.1">: K562</text>
<text class="t" x="410.8" y="615.9">: HepG2</text>
<text class="t" x="410.8" y="638.5">: control</text>
</g>
</g>
</svg>
</body></html>
